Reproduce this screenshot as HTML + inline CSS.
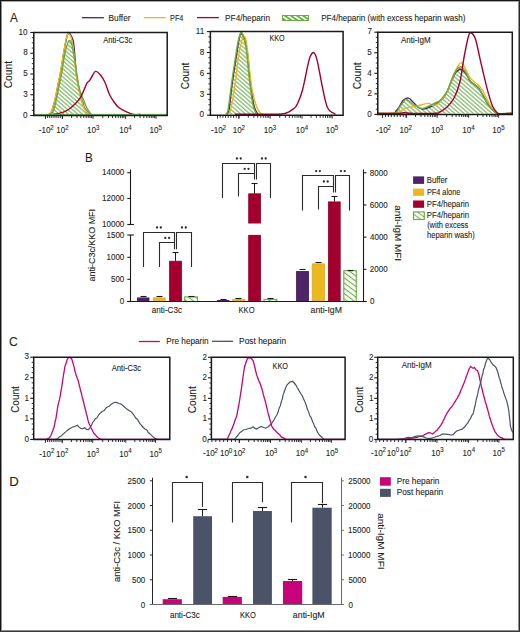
<!DOCTYPE html>
<html><head><meta charset="utf-8"><style>
html,body{margin:0;padding:0;background:#fff;overflow:hidden;width:520px;height:632px;}
svg{display:block;font-family:"Liberation Sans", sans-serif;}
text{stroke:#231f20;stroke-width:0.1px;}
</style></head><body>
<svg width="520" height="632" viewBox="0 0 520 632">
<defs>
<pattern id="hatch" patternUnits="userSpaceOnUse" width="6" height="3.06" patternTransform="rotate(41)">
<rect width="6" height="3.06" fill="#fff"/><line x1="0" y1="1.53" x2="6" y2="1.53" stroke="#55a032" stroke-width="0.9"/>
</pattern>
<pattern id="hatchB" patternUnits="userSpaceOnUse" width="6" height="4.2" patternTransform="rotate(37)">
<rect width="6" height="4.2" fill="#fff"/><line x1="0" y1="2.1" x2="6" y2="2.1" stroke="#6aac3f" stroke-width="1.1"/>
</pattern>
<pattern id="hatchS" patternUnits="userSpaceOnUse" x="0" y="0" width="8" height="4.0" patternTransform="translate(414,212.3) rotate(38)">
<rect width="8" height="4.0" fill="#fff"/><line x1="0" y1="1.6" x2="8" y2="1.6" stroke="#6aac3f" stroke-width="1.0"/>
</pattern>
<pattern id="hatchL" patternUnits="userSpaceOnUse" width="6" height="3.5" patternTransform="rotate(35)">
<rect width="6" height="3.5" fill="#6aac3f"/><line x1="0" y1="1.75" x2="6" y2="1.75" stroke="#fff" stroke-width="1.8"/>
</pattern>
</defs>
<rect x="0" y="0" width="520" height="632" fill="#fff"/>
<text x="9.97" y="21.90" font-size="12.7" textLength="7.85" lengthAdjust="spacingAndGlyphs" fill="#231f20">A</text>
<text x="85.04" y="161.80" font-size="12.7" textLength="7.77" lengthAdjust="spacingAndGlyphs" fill="#231f20">B</text>
<text x="8.99" y="345.70" font-size="12.7" textLength="8.76" lengthAdjust="spacingAndGlyphs" fill="#231f20">C</text>
<text x="9.31" y="485.60" font-size="12.7" textLength="9.51" lengthAdjust="spacingAndGlyphs" fill="#231f20">D</text>
<line x1="81.90" y1="17.70" x2="103.90" y2="17.70" stroke="#4f2466" stroke-width="1.3"/>
<text x="108.62" y="20.70" font-size="8.8" textLength="21.91" lengthAdjust="spacingAndGlyphs" fill="#231f20">Buffer</text>
<line x1="143.70" y1="17.70" x2="165.90" y2="17.70" stroke="#ecb820" stroke-width="1.3"/>
<text x="170.10" y="20.70" font-size="8.8" textLength="13.31" lengthAdjust="spacingAndGlyphs" fill="#231f20">PF4</text>
<line x1="197.00" y1="17.60" x2="218.80" y2="17.60" stroke="#a3002f" stroke-width="1.3"/>
<text x="225.12" y="20.70" font-size="8.8" textLength="44.90" lengthAdjust="spacingAndGlyphs" fill="#231f20">PF4/heparin</text>
<rect x="282.50" y="15.50" width="26.00" height="5.00" fill="url(#hatchL)" stroke="#6aac3f" stroke-width="1"/>
<text x="321.13" y="20.70" font-size="8.8" textLength="144.37" lengthAdjust="spacingAndGlyphs" fill="#231f20">PF4/heparin (with excess heparin wash)</text>
<path d="M50.70,114.40 C51.17,113.80 52.57,113.27 53.50,110.80 C54.43,108.33 55.37,103.78 56.30,99.60 C57.23,95.42 58.17,90.33 59.10,85.70 C60.03,81.07 60.98,76.92 61.90,71.80 C62.82,66.68 63.68,59.65 64.60,55.00 C65.52,50.35 66.58,46.33 67.40,43.90 C68.22,41.47 68.80,40.40 69.50,40.40 C70.20,40.40 70.78,40.98 71.60,43.90 C72.42,46.82 73.58,53.25 74.40,57.90 C75.22,62.55 75.68,66.70 76.50,71.80 C77.32,76.90 78.15,83.87 79.30,88.50 C80.45,93.13 82.13,96.35 83.40,99.60 C84.67,102.85 85.62,105.53 86.90,108.00 C88.18,110.47 90.40,113.33 91.10,114.40 L91.10,114.4 L50.70,114.4 Z" stroke="none" stroke-width="0" fill="url(#hatch)"/>
<path d="M48.80,114.40 C49.27,113.92 50.55,113.97 51.60,111.50 C52.65,109.03 54.05,103.90 55.10,99.60 C56.15,95.30 56.97,90.33 57.90,85.70 C58.83,81.07 59.78,76.92 60.70,71.80 C61.62,66.68 62.48,60.35 63.40,55.00 C64.32,49.65 65.47,43.27 66.20,39.70 C66.93,36.13 67.37,34.78 67.80,33.60 C68.23,32.42 68.18,32.12 68.80,32.60 C69.42,33.08 70.68,34.62 71.50,36.50 C72.32,38.38 72.92,38.02 73.70,43.90 C74.48,49.78 75.33,64.37 76.20,71.80 C77.07,79.23 77.98,83.87 78.90,88.50 C79.82,93.13 80.78,96.35 81.70,99.60 C82.62,102.85 83.37,105.78 84.40,108.00 C85.43,110.22 86.97,111.83 87.90,112.90 C88.83,113.97 89.65,114.15 90.00,114.40" stroke="#4f2466" stroke-width="1.4" fill="none"/>
<path d="M48.60,114.40 C49.07,113.92 50.35,113.97 51.40,111.50 C52.45,109.03 53.85,103.90 54.90,99.60 C55.95,95.30 56.77,90.33 57.70,85.70 C58.63,81.07 59.58,76.92 60.50,71.80 C61.42,66.68 62.28,60.35 63.20,55.00 C64.12,49.65 65.30,43.05 66.00,39.70 C66.70,36.35 66.98,35.93 67.40,34.90 C67.82,33.87 67.92,33.15 68.50,33.50 C69.08,33.85 70.15,34.80 70.90,37.00 C71.65,39.20 72.18,40.90 73.00,46.70 C73.82,52.50 74.87,64.83 75.80,71.80 C76.73,78.77 77.67,83.87 78.60,88.50 C79.53,93.13 80.48,96.35 81.40,99.60 C82.32,102.85 83.07,105.78 84.10,108.00 C85.13,110.22 86.67,111.83 87.60,112.90 C88.53,113.97 89.35,114.15 89.70,114.40" stroke="#ecb820" stroke-width="1.4" fill="none"/>
<path d="M50.70,114.40 C51.17,113.80 52.57,113.27 53.50,110.80 C54.43,108.33 55.37,103.78 56.30,99.60 C57.23,95.42 58.17,90.33 59.10,85.70 C60.03,81.07 60.98,76.92 61.90,71.80 C62.82,66.68 63.68,59.65 64.60,55.00 C65.52,50.35 66.58,46.33 67.40,43.90 C68.22,41.47 68.80,40.40 69.50,40.40 C70.20,40.40 70.78,40.98 71.60,43.90 C72.42,46.82 73.58,53.25 74.40,57.90 C75.22,62.55 75.68,66.70 76.50,71.80 C77.32,76.90 78.15,83.87 79.30,88.50 C80.45,93.13 82.13,96.35 83.40,99.60 C84.67,102.85 85.62,105.53 86.90,108.00 C88.18,110.47 90.40,113.33 91.10,114.40" stroke="#6aac3f" stroke-width="1.4" fill="none"/>
<path d="M53.50,114.40 C54.58,114.20 57.92,113.80 60.00,113.20 C62.08,112.60 64.30,111.63 66.00,110.80 C67.70,109.97 68.70,109.33 70.20,108.20 C71.70,107.07 73.37,105.67 75.00,104.00 C76.63,102.33 78.50,100.53 80.00,98.20 C81.50,95.87 82.85,92.50 84.00,90.00 C85.15,87.50 85.95,84.82 86.90,83.20 C87.85,81.58 88.77,81.58 89.70,80.30 C90.63,79.02 91.52,76.98 92.50,75.50 C93.48,74.02 94.27,71.48 95.60,71.40 C96.93,71.32 98.93,73.15 100.50,75.00 C102.07,76.85 103.50,79.25 105.00,82.50 C106.50,85.75 108.00,91.25 109.50,94.50 C111.00,97.75 112.50,99.88 114.00,102.00 C115.50,104.12 116.50,105.58 118.50,107.20 C120.50,108.82 123.50,110.50 126.00,111.70 C128.50,112.90 131.00,113.95 133.50,114.40 C136.00,114.85 139.75,114.40 141.00,114.40" stroke="#a3002f" stroke-width="1.4" fill="none"/>
<line x1="33.80" y1="114.40" x2="167.20" y2="114.40" stroke="#6aac3f" stroke-width="1.0"/>
<path d="M33.8,32.5 H167.2 V115.5 H33.8 Z" stroke="#1a1a1a" stroke-width="1.5" fill="none"/>
<line x1="30.30" y1="115.50" x2="33.80" y2="115.50" stroke="#1a1a1a" stroke-width="1.1"/>
<text x="23.11" y="117.70" font-size="8.8" textLength="4.50" lengthAdjust="spacingAndGlyphs" fill="#231f20">0</text>
<line x1="31.80" y1="110.31" x2="33.80" y2="110.31" stroke="#1a1a1a" stroke-width="0.9"/>
<line x1="31.80" y1="105.12" x2="33.80" y2="105.12" stroke="#1a1a1a" stroke-width="0.9"/>
<line x1="31.80" y1="99.94" x2="33.80" y2="99.94" stroke="#1a1a1a" stroke-width="0.9"/>
<line x1="30.30" y1="94.75" x2="33.80" y2="94.75" stroke="#1a1a1a" stroke-width="1.1"/>
<text x="23.15" y="96.95" font-size="8.8" textLength="4.50" lengthAdjust="spacingAndGlyphs" fill="#231f20">3</text>
<line x1="31.80" y1="89.56" x2="33.80" y2="89.56" stroke="#1a1a1a" stroke-width="0.9"/>
<line x1="31.80" y1="84.38" x2="33.80" y2="84.38" stroke="#1a1a1a" stroke-width="0.9"/>
<line x1="31.80" y1="79.19" x2="33.80" y2="79.19" stroke="#1a1a1a" stroke-width="0.9"/>
<line x1="30.30" y1="74.00" x2="33.80" y2="74.00" stroke="#1a1a1a" stroke-width="1.1"/>
<text x="23.13" y="76.20" font-size="8.8" textLength="4.50" lengthAdjust="spacingAndGlyphs" fill="#231f20">5</text>
<line x1="31.80" y1="68.81" x2="33.80" y2="68.81" stroke="#1a1a1a" stroke-width="0.9"/>
<line x1="31.80" y1="63.62" x2="33.80" y2="63.62" stroke="#1a1a1a" stroke-width="0.9"/>
<line x1="31.80" y1="58.44" x2="33.80" y2="58.44" stroke="#1a1a1a" stroke-width="0.9"/>
<line x1="30.30" y1="53.25" x2="33.80" y2="53.25" stroke="#1a1a1a" stroke-width="1.1"/>
<text x="23.15" y="55.45" font-size="8.8" textLength="4.50" lengthAdjust="spacingAndGlyphs" fill="#231f20">8</text>
<line x1="31.80" y1="48.06" x2="33.80" y2="48.06" stroke="#1a1a1a" stroke-width="0.9"/>
<line x1="31.80" y1="42.88" x2="33.80" y2="42.88" stroke="#1a1a1a" stroke-width="0.9"/>
<line x1="31.80" y1="37.69" x2="33.80" y2="37.69" stroke="#1a1a1a" stroke-width="0.9"/>
<line x1="30.30" y1="32.50" x2="33.80" y2="32.50" stroke="#1a1a1a" stroke-width="1.1"/>
<text x="18.62" y="34.70" font-size="8.8" textLength="9.01" lengthAdjust="spacingAndGlyphs" fill="#231f20">10</text>
<text transform="translate(12.30,87.80) rotate(-90)" x="-0.52" y="0" font-size="11.0" textLength="27.50" lengthAdjust="spacingAndGlyphs" fill="#231f20">Count</text>
<text x="38.74" y="133.40" font-size="9.2" textLength="11.70" lengthAdjust="spacingAndGlyphs" fill="#231f20">-10</text>
<text x="50.33" y="129.70" font-size="6.4" textLength="3.38" lengthAdjust="spacingAndGlyphs" fill="#231f20">2</text>
<text x="56.29" y="133.40" font-size="9.2" textLength="9.01" lengthAdjust="spacingAndGlyphs" fill="#231f20">10</text>
<text x="65.17" y="129.70" font-size="6.4" textLength="3.38" lengthAdjust="spacingAndGlyphs" fill="#231f20">2</text>
<text x="86.99" y="133.40" font-size="9.2" textLength="9.01" lengthAdjust="spacingAndGlyphs" fill="#231f20">10</text>
<text x="95.95" y="129.70" font-size="6.4" textLength="3.38" lengthAdjust="spacingAndGlyphs" fill="#231f20">3</text>
<text x="119.29" y="133.40" font-size="9.2" textLength="9.01" lengthAdjust="spacingAndGlyphs" fill="#231f20">10</text>
<text x="128.34" y="129.70" font-size="6.4" textLength="3.38" lengthAdjust="spacingAndGlyphs" fill="#231f20">4</text>
<text x="149.59" y="133.40" font-size="9.2" textLength="9.01" lengthAdjust="spacingAndGlyphs" fill="#231f20">10</text>
<text x="158.53" y="129.70" font-size="6.4" textLength="3.38" lengthAdjust="spacingAndGlyphs" fill="#231f20">5</text>
<text x="103.18" y="42.70" font-size="8.3" textLength="29.02" lengthAdjust="spacingAndGlyphs" fill="#231f20">Anti-C3c</text>
<path d="M225.70,114.20 C226.08,113.50 227.05,114.87 228.00,110.00 C228.95,105.13 230.48,91.67 231.40,85.00 C232.32,78.33 232.80,74.75 233.50,70.00 C234.20,65.25 234.85,61.17 235.60,56.50 C236.35,51.83 237.10,45.98 238.00,42.00 C238.90,38.02 240.08,33.43 241.00,32.60 C241.92,31.77 242.62,34.20 243.50,37.00 C244.38,39.80 245.35,42.58 246.30,49.40 C247.25,56.22 248.42,70.80 249.20,77.90 C249.98,85.00 250.42,87.73 251.00,92.00 C251.58,96.27 252.03,100.33 252.70,103.50 C253.37,106.67 254.28,109.22 255.00,111.00 C255.72,112.78 256.67,113.67 257.00,114.20 L257.00,114.2 L225.70,114.2 Z" stroke="none" stroke-width="0" fill="url(#hatch)"/>
<path d="M226.50,114.20 C226.92,113.50 228.08,114.87 229.00,110.00 C229.92,105.13 230.78,93.92 232.00,85.00 C233.22,76.08 235.20,63.67 236.30,56.50 C237.40,49.33 237.88,45.80 238.60,42.00 C239.32,38.20 239.70,34.37 240.60,33.70 C241.50,33.03 242.93,35.28 244.00,38.00 C245.07,40.72 246.00,43.33 247.00,50.00 C248.00,56.67 248.92,69.08 250.00,78.00 C251.08,86.92 252.50,98.00 253.50,103.50 C254.50,109.00 255.25,109.22 256.00,111.00 C256.75,112.78 257.67,113.67 258.00,114.20" stroke="#4f2466" stroke-width="1.4" fill="none"/>
<path d="M228.50,114.20 C228.92,113.17 229.92,112.87 231.00,108.00 C232.08,103.13 233.75,93.58 235.00,85.00 C236.25,76.42 237.42,63.67 238.50,56.50 C239.58,49.33 240.60,45.33 241.50,42.00 C242.40,38.67 243.15,36.83 243.90,36.50 C244.65,36.17 245.28,36.67 246.00,40.00 C246.72,43.33 247.32,49.00 248.20,56.50 C249.08,64.00 250.33,78.08 251.30,85.00 C252.27,91.92 253.05,94.20 254.00,98.00 C254.95,101.80 256.00,105.38 257.00,107.80 C258.00,110.22 259.05,111.43 260.00,112.50 C260.95,113.57 262.25,113.92 262.70,114.20" stroke="#ecb820" stroke-width="1.4" fill="none"/>
<path d="M225.70,114.20 C226.08,113.50 227.05,114.87 228.00,110.00 C228.95,105.13 230.48,91.67 231.40,85.00 C232.32,78.33 232.80,74.75 233.50,70.00 C234.20,65.25 234.85,61.17 235.60,56.50 C236.35,51.83 237.10,45.98 238.00,42.00 C238.90,38.02 240.08,33.43 241.00,32.60 C241.92,31.77 242.62,34.20 243.50,37.00 C244.38,39.80 245.35,42.58 246.30,49.40 C247.25,56.22 248.42,70.80 249.20,77.90 C249.98,85.00 250.42,87.73 251.00,92.00 C251.58,96.27 252.03,100.33 252.70,103.50 C253.37,106.67 254.28,109.22 255.00,111.00 C255.72,112.78 256.67,113.67 257.00,114.20" stroke="#6aac3f" stroke-width="1.4" fill="none"/>
<path d="M235.00,114.20 C240.83,114.20 262.83,114.20 270.00,114.20 C277.17,114.20 275.67,114.30 278.00,114.20 C280.33,114.10 282.17,114.00 284.00,113.60 C285.83,113.20 287.58,112.48 289.00,111.80 C290.42,111.12 291.33,110.40 292.50,109.50 C293.67,108.60 294.83,108.15 296.00,106.40 C297.17,104.65 298.42,101.73 299.50,99.00 C300.58,96.27 301.58,93.33 302.50,90.00 C303.42,86.67 304.18,82.80 305.00,79.00 C305.82,75.20 306.57,70.87 307.40,67.20 C308.23,63.53 309.05,59.45 310.00,57.00 C310.95,54.55 312.18,52.83 313.10,52.50 C314.02,52.17 314.82,53.63 315.50,55.00 C316.18,56.37 316.53,57.87 317.20,60.70 C317.87,63.53 318.70,67.92 319.50,72.00 C320.30,76.08 321.17,81.03 322.00,85.20 C322.83,89.37 323.67,93.47 324.50,97.00 C325.33,100.53 326.08,104.07 327.00,106.40 C327.92,108.73 328.92,109.90 330.00,111.00 C331.08,112.10 332.58,112.47 333.50,113.00 C334.42,113.53 335.17,114.00 335.50,114.20" stroke="#a3002f" stroke-width="1.4" fill="none"/>
<path d="M210.4,31.6 H343.1 V115.2 H210.4 Z" stroke="#1a1a1a" stroke-width="1.5" fill="none"/>
<line x1="206.90" y1="115.20" x2="210.40" y2="115.20" stroke="#1a1a1a" stroke-width="1.1"/>
<text x="199.61" y="117.40" font-size="8.8" textLength="4.50" lengthAdjust="spacingAndGlyphs" fill="#231f20">0</text>
<line x1="208.40" y1="109.98" x2="210.40" y2="109.98" stroke="#1a1a1a" stroke-width="0.9"/>
<line x1="208.40" y1="104.75" x2="210.40" y2="104.75" stroke="#1a1a1a" stroke-width="0.9"/>
<line x1="208.40" y1="99.53" x2="210.40" y2="99.53" stroke="#1a1a1a" stroke-width="0.9"/>
<line x1="206.90" y1="94.30" x2="210.40" y2="94.30" stroke="#1a1a1a" stroke-width="1.1"/>
<text x="199.65" y="96.50" font-size="8.8" textLength="4.50" lengthAdjust="spacingAndGlyphs" fill="#231f20">3</text>
<line x1="208.40" y1="89.08" x2="210.40" y2="89.08" stroke="#1a1a1a" stroke-width="0.9"/>
<line x1="208.40" y1="83.85" x2="210.40" y2="83.85" stroke="#1a1a1a" stroke-width="0.9"/>
<line x1="208.40" y1="78.63" x2="210.40" y2="78.63" stroke="#1a1a1a" stroke-width="0.9"/>
<line x1="206.90" y1="73.40" x2="210.40" y2="73.40" stroke="#1a1a1a" stroke-width="1.1"/>
<text x="199.65" y="75.60" font-size="8.8" textLength="4.50" lengthAdjust="spacingAndGlyphs" fill="#231f20">6</text>
<line x1="208.40" y1="68.18" x2="210.40" y2="68.18" stroke="#1a1a1a" stroke-width="0.9"/>
<line x1="208.40" y1="62.95" x2="210.40" y2="62.95" stroke="#1a1a1a" stroke-width="0.9"/>
<line x1="208.40" y1="57.73" x2="210.40" y2="57.73" stroke="#1a1a1a" stroke-width="0.9"/>
<line x1="206.90" y1="52.50" x2="210.40" y2="52.50" stroke="#1a1a1a" stroke-width="1.1"/>
<text x="199.65" y="54.70" font-size="8.8" textLength="4.50" lengthAdjust="spacingAndGlyphs" fill="#231f20">8</text>
<line x1="208.40" y1="47.28" x2="210.40" y2="47.28" stroke="#1a1a1a" stroke-width="0.9"/>
<line x1="208.40" y1="42.05" x2="210.40" y2="42.05" stroke="#1a1a1a" stroke-width="0.9"/>
<line x1="208.40" y1="36.83" x2="210.40" y2="36.83" stroke="#1a1a1a" stroke-width="0.9"/>
<line x1="206.90" y1="31.60" x2="210.40" y2="31.60" stroke="#1a1a1a" stroke-width="1.1"/>
<text x="195.78" y="33.80" font-size="8.8" textLength="8.40" lengthAdjust="spacingAndGlyphs" fill="#231f20">11</text>
<text transform="translate(188.80,88.80) rotate(-90)" x="-0.50" y="0" font-size="11.0" textLength="26.69" lengthAdjust="spacingAndGlyphs" fill="#231f20">Count</text>
<text x="210.94" y="133.40" font-size="9.2" textLength="11.70" lengthAdjust="spacingAndGlyphs" fill="#231f20">-10</text>
<text x="222.53" y="129.70" font-size="6.4" textLength="3.38" lengthAdjust="spacingAndGlyphs" fill="#231f20">2</text>
<text x="232.69" y="133.40" font-size="9.2" textLength="9.01" lengthAdjust="spacingAndGlyphs" fill="#231f20">10</text>
<text x="241.57" y="129.70" font-size="6.4" textLength="3.38" lengthAdjust="spacingAndGlyphs" fill="#231f20">2</text>
<text x="263.69" y="133.40" font-size="9.2" textLength="9.01" lengthAdjust="spacingAndGlyphs" fill="#231f20">10</text>
<text x="272.65" y="129.70" font-size="6.4" textLength="3.38" lengthAdjust="spacingAndGlyphs" fill="#231f20">3</text>
<text x="295.69" y="133.40" font-size="9.2" textLength="9.01" lengthAdjust="spacingAndGlyphs" fill="#231f20">10</text>
<text x="304.74" y="129.70" font-size="6.4" textLength="3.38" lengthAdjust="spacingAndGlyphs" fill="#231f20">4</text>
<text x="325.69" y="133.40" font-size="9.2" textLength="9.01" lengthAdjust="spacingAndGlyphs" fill="#231f20">10</text>
<text x="334.63" y="129.70" font-size="6.4" textLength="3.38" lengthAdjust="spacingAndGlyphs" fill="#231f20">5</text>
<text x="269.51" y="41.40" font-size="8.3" textLength="15.02" lengthAdjust="spacingAndGlyphs" fill="#231f20">KKO</text>
<path d="M377.80,113.40 C380.58,113.38 390.97,114.20 394.50,113.30 C398.03,112.40 397.33,110.13 399.00,108.00 C400.67,105.87 403.23,101.92 404.50,100.50 C405.77,99.08 405.18,98.92 406.60,99.50 C408.02,100.08 410.52,102.52 413.00,104.00 C415.48,105.48 418.90,108.03 421.50,108.40 C424.10,108.77 425.98,107.27 428.60,106.20 C431.22,105.13 435.22,103.03 437.20,102.00 C439.18,100.97 439.08,101.43 440.50,100.00 C441.92,98.57 444.53,94.98 445.70,93.40 C446.87,91.82 446.08,93.82 447.50,90.50 C448.92,87.18 452.02,77.47 454.20,73.50 C456.38,69.53 458.70,66.93 460.60,66.70 C462.50,66.47 464.05,69.78 465.60,72.10 C467.15,74.42 468.48,78.58 469.90,80.60 C471.32,82.62 472.68,83.02 474.10,84.20 C475.52,85.38 476.97,85.92 478.40,87.70 C479.83,89.48 481.03,92.05 482.70,94.90 C484.37,97.75 486.52,102.08 488.40,104.80 C490.28,107.52 492.35,109.73 494.00,111.20 C495.65,112.67 495.30,113.23 498.30,113.60 C501.30,113.97 509.72,113.43 512.00,113.40 L512.00,113.4 L377.80,113.4 Z" stroke="none" stroke-width="0" fill="url(#hatch)"/>
<path d="M377.80,113.40 C380.33,113.38 389.97,113.70 393.00,113.30 C396.03,112.90 395.03,111.93 396.00,111.00 C396.97,110.07 397.63,109.45 398.80,107.70 C399.97,105.95 401.40,102.10 403.00,100.50 C404.60,98.90 406.73,97.85 408.40,98.10 C410.07,98.35 411.28,100.40 413.00,102.00 C414.72,103.60 417.03,106.53 418.70,107.70 C420.37,108.87 421.12,109.12 423.00,109.00 C424.88,108.88 427.67,107.93 430.00,107.00 C432.33,106.07 435.25,104.48 437.00,103.40 C438.75,102.32 439.28,101.68 440.50,100.50 C441.72,99.32 443.13,97.88 444.30,96.30 C445.47,94.72 445.85,94.55 447.50,91.00 C449.15,87.45 452.45,78.42 454.20,75.00 C455.95,71.58 456.87,71.45 458.00,70.50 C459.13,69.55 459.73,68.88 461.00,69.30 C462.27,69.72 464.12,71.12 465.60,73.00 C467.08,74.88 468.48,78.73 469.90,80.60 C471.32,82.47 472.68,83.02 474.10,84.20 C475.52,85.38 476.97,85.92 478.40,87.70 C479.83,89.48 481.03,92.05 482.70,94.90 C484.37,97.75 486.52,102.08 488.40,104.80 C490.28,107.52 492.35,109.73 494.00,111.20 C495.65,112.67 495.30,113.23 498.30,113.60 C501.30,113.97 509.72,113.43 512.00,113.40" stroke="#4f2466" stroke-width="1.4" fill="none"/>
<path d="M377.80,113.40 C381.05,113.27 392.85,113.43 397.30,112.60 C401.75,111.77 402.12,109.33 404.50,108.40 C406.88,107.47 409.23,107.48 411.60,107.00 C413.97,106.52 415.87,106.10 418.70,105.50 C421.53,104.90 426.22,103.40 428.60,103.40 C430.98,103.40 431.33,105.50 433.00,105.50 C434.67,105.50 437.18,104.40 438.60,103.40 C440.02,102.40 440.08,101.40 441.50,99.50 C442.92,97.60 444.98,96.33 447.10,92.00 C449.22,87.67 452.30,78.00 454.20,73.50 C456.10,69.00 457.32,66.82 458.50,65.00 C459.68,63.18 460.35,62.37 461.30,62.60 C462.25,62.83 463.02,64.33 464.20,66.40 C465.38,68.47 466.98,72.63 468.40,75.00 C469.82,77.37 471.03,78.95 472.70,80.60 C474.37,82.25 476.73,83.23 478.40,84.90 C480.07,86.57 481.28,88.23 482.70,90.60 C484.12,92.97 485.48,96.37 486.90,99.10 C488.32,101.83 489.77,104.85 491.20,107.00 C492.63,109.15 494.08,110.90 495.50,112.00 C496.92,113.10 496.95,113.37 499.70,113.60 C502.45,113.83 509.95,113.43 512.00,113.40" stroke="#ecb820" stroke-width="1.4" fill="none"/>
<path d="M377.80,113.40 C380.58,113.38 390.97,114.20 394.50,113.30 C398.03,112.40 397.33,110.13 399.00,108.00 C400.67,105.87 403.23,101.92 404.50,100.50 C405.77,99.08 405.18,98.92 406.60,99.50 C408.02,100.08 410.52,102.52 413.00,104.00 C415.48,105.48 418.90,108.03 421.50,108.40 C424.10,108.77 425.98,107.27 428.60,106.20 C431.22,105.13 435.22,103.03 437.20,102.00 C439.18,100.97 439.08,101.43 440.50,100.00 C441.92,98.57 444.53,94.98 445.70,93.40 C446.87,91.82 446.08,93.82 447.50,90.50 C448.92,87.18 452.02,77.47 454.20,73.50 C456.38,69.53 458.70,66.93 460.60,66.70 C462.50,66.47 464.05,69.78 465.60,72.10 C467.15,74.42 468.48,78.58 469.90,80.60 C471.32,82.62 472.68,83.02 474.10,84.20 C475.52,85.38 476.97,85.92 478.40,87.70 C479.83,89.48 481.03,92.05 482.70,94.90 C484.37,97.75 486.52,102.08 488.40,104.80 C490.28,107.52 492.35,109.73 494.00,111.20 C495.65,112.67 495.30,113.23 498.30,113.60 C501.30,113.97 509.72,113.43 512.00,113.40" stroke="#6aac3f" stroke-width="1.4" fill="none"/>
<path d="M377.80,113.40 C381.05,113.40 392.85,113.50 397.30,113.40 C401.75,113.30 401.88,112.80 404.50,112.80 C407.12,112.80 407.75,113.32 413.00,113.40 C418.25,113.48 431.50,113.57 436.00,113.30 C440.50,113.03 438.15,112.85 440.00,111.80 C441.85,110.75 444.73,109.35 447.10,107.00 C449.47,104.65 452.07,101.87 454.20,97.70 C456.33,93.53 458.23,88.87 459.90,82.00 C461.57,75.13 462.78,64.08 464.20,56.50 C465.62,48.92 467.22,40.42 468.40,36.50 C469.58,32.58 470.10,32.52 471.30,33.00 C472.50,33.48 474.18,35.25 475.60,39.40 C477.02,43.55 478.38,51.73 479.80,57.90 C481.22,64.07 482.67,70.48 484.10,76.40 C485.53,82.32 486.98,88.43 488.40,93.40 C489.82,98.37 491.18,103.00 492.60,106.20 C494.02,109.40 495.72,111.37 496.90,112.60 C498.08,113.83 497.18,113.47 499.70,113.60 C502.22,113.73 509.95,113.43 512.00,113.40" stroke="#a3002f" stroke-width="1.4" fill="none"/>
<path d="M377.8,32.2 H512.3 V114.4 H377.8 Z" stroke="#1a1a1a" stroke-width="1.5" fill="none"/>
<line x1="374.30" y1="114.40" x2="377.80" y2="114.40" stroke="#1a1a1a" stroke-width="1.1"/>
<text x="367.31" y="116.60" font-size="8.8" textLength="4.50" lengthAdjust="spacingAndGlyphs" fill="#231f20">0</text>
<line x1="375.80" y1="109.26" x2="377.80" y2="109.26" stroke="#1a1a1a" stroke-width="0.9"/>
<line x1="375.80" y1="104.12" x2="377.80" y2="104.12" stroke="#1a1a1a" stroke-width="0.9"/>
<line x1="375.80" y1="98.99" x2="377.80" y2="98.99" stroke="#1a1a1a" stroke-width="0.9"/>
<line x1="374.30" y1="93.85" x2="377.80" y2="93.85" stroke="#1a1a1a" stroke-width="1.1"/>
<text x="367.41" y="96.05" font-size="8.8" textLength="4.50" lengthAdjust="spacingAndGlyphs" fill="#231f20">2</text>
<line x1="375.80" y1="88.71" x2="377.80" y2="88.71" stroke="#1a1a1a" stroke-width="0.9"/>
<line x1="375.80" y1="83.58" x2="377.80" y2="83.58" stroke="#1a1a1a" stroke-width="0.9"/>
<line x1="375.80" y1="78.44" x2="377.80" y2="78.44" stroke="#1a1a1a" stroke-width="0.9"/>
<line x1="374.30" y1="73.30" x2="377.80" y2="73.30" stroke="#1a1a1a" stroke-width="1.1"/>
<text x="367.23" y="75.50" font-size="8.8" textLength="4.50" lengthAdjust="spacingAndGlyphs" fill="#231f20">4</text>
<line x1="375.80" y1="68.16" x2="377.80" y2="68.16" stroke="#1a1a1a" stroke-width="0.9"/>
<line x1="375.80" y1="63.03" x2="377.80" y2="63.03" stroke="#1a1a1a" stroke-width="0.9"/>
<line x1="375.80" y1="57.89" x2="377.80" y2="57.89" stroke="#1a1a1a" stroke-width="0.9"/>
<line x1="374.30" y1="52.75" x2="377.80" y2="52.75" stroke="#1a1a1a" stroke-width="1.1"/>
<text x="367.33" y="54.95" font-size="8.8" textLength="4.50" lengthAdjust="spacingAndGlyphs" fill="#231f20">5</text>
<line x1="375.80" y1="47.61" x2="377.80" y2="47.61" stroke="#1a1a1a" stroke-width="0.9"/>
<line x1="375.80" y1="42.48" x2="377.80" y2="42.48" stroke="#1a1a1a" stroke-width="0.9"/>
<line x1="375.80" y1="37.34" x2="377.80" y2="37.34" stroke="#1a1a1a" stroke-width="0.9"/>
<line x1="374.30" y1="32.20" x2="377.80" y2="32.20" stroke="#1a1a1a" stroke-width="1.1"/>
<text x="367.41" y="34.40" font-size="8.8" textLength="4.50" lengthAdjust="spacingAndGlyphs" fill="#231f20">7</text>
<text transform="translate(361.00,88.80) rotate(-90)" x="-0.50" y="0" font-size="11.0" textLength="26.89" lengthAdjust="spacingAndGlyphs" fill="#231f20">Count</text>
<text x="375.94" y="133.40" font-size="9.2" textLength="11.70" lengthAdjust="spacingAndGlyphs" fill="#231f20">-10</text>
<text x="387.53" y="129.70" font-size="6.4" textLength="3.38" lengthAdjust="spacingAndGlyphs" fill="#231f20">2</text>
<text x="399.59" y="133.40" font-size="9.2" textLength="9.01" lengthAdjust="spacingAndGlyphs" fill="#231f20">10</text>
<text x="408.47" y="129.70" font-size="6.4" textLength="3.38" lengthAdjust="spacingAndGlyphs" fill="#231f20">2</text>
<text x="430.89" y="133.40" font-size="9.2" textLength="9.01" lengthAdjust="spacingAndGlyphs" fill="#231f20">10</text>
<text x="439.85" y="129.70" font-size="6.4" textLength="3.38" lengthAdjust="spacingAndGlyphs" fill="#231f20">3</text>
<text x="462.19" y="133.40" font-size="9.2" textLength="9.01" lengthAdjust="spacingAndGlyphs" fill="#231f20">10</text>
<text x="471.24" y="129.70" font-size="6.4" textLength="3.38" lengthAdjust="spacingAndGlyphs" fill="#231f20">4</text>
<text x="492.29" y="133.40" font-size="9.2" textLength="9.01" lengthAdjust="spacingAndGlyphs" fill="#231f20">10</text>
<text x="501.23" y="129.70" font-size="6.4" textLength="3.38" lengthAdjust="spacingAndGlyphs" fill="#231f20">5</text>
<text x="400.88" y="43.20" font-size="8.3" textLength="29.79" lengthAdjust="spacingAndGlyphs" fill="#231f20">Anti-IgM</text>
<line x1="62.40" y1="116.00" x2="62.40" y2="118.90" stroke="#1a1a1a" stroke-width="0.9"/>
<line x1="71.61" y1="116.00" x2="71.61" y2="118.10" stroke="#1a1a1a" stroke-width="0.9"/>
<line x1="77.00" y1="116.00" x2="77.00" y2="118.10" stroke="#1a1a1a" stroke-width="0.9"/>
<line x1="80.82" y1="116.00" x2="80.82" y2="118.10" stroke="#1a1a1a" stroke-width="0.9"/>
<line x1="83.79" y1="116.00" x2="83.79" y2="118.10" stroke="#1a1a1a" stroke-width="0.9"/>
<line x1="86.21" y1="116.00" x2="86.21" y2="118.10" stroke="#1a1a1a" stroke-width="0.9"/>
<line x1="88.26" y1="116.00" x2="88.26" y2="118.10" stroke="#1a1a1a" stroke-width="0.9"/>
<line x1="90.03" y1="116.00" x2="90.03" y2="118.10" stroke="#1a1a1a" stroke-width="0.9"/>
<line x1="91.60" y1="116.00" x2="91.60" y2="118.10" stroke="#1a1a1a" stroke-width="0.9"/>
<line x1="93.00" y1="116.00" x2="93.00" y2="118.90" stroke="#1a1a1a" stroke-width="0.9"/>
<line x1="102.75" y1="116.00" x2="102.75" y2="118.10" stroke="#1a1a1a" stroke-width="0.9"/>
<line x1="108.46" y1="116.00" x2="108.46" y2="118.10" stroke="#1a1a1a" stroke-width="0.9"/>
<line x1="112.51" y1="116.00" x2="112.51" y2="118.10" stroke="#1a1a1a" stroke-width="0.9"/>
<line x1="115.65" y1="116.00" x2="115.65" y2="118.10" stroke="#1a1a1a" stroke-width="0.9"/>
<line x1="118.21" y1="116.00" x2="118.21" y2="118.10" stroke="#1a1a1a" stroke-width="0.9"/>
<line x1="120.38" y1="116.00" x2="120.38" y2="118.10" stroke="#1a1a1a" stroke-width="0.9"/>
<line x1="122.26" y1="116.00" x2="122.26" y2="118.10" stroke="#1a1a1a" stroke-width="0.9"/>
<line x1="123.92" y1="116.00" x2="123.92" y2="118.10" stroke="#1a1a1a" stroke-width="0.9"/>
<line x1="125.40" y1="116.00" x2="125.40" y2="118.90" stroke="#1a1a1a" stroke-width="0.9"/>
<line x1="134.61" y1="116.00" x2="134.61" y2="118.10" stroke="#1a1a1a" stroke-width="0.9"/>
<line x1="140.00" y1="116.00" x2="140.00" y2="118.10" stroke="#1a1a1a" stroke-width="0.9"/>
<line x1="143.82" y1="116.00" x2="143.82" y2="118.10" stroke="#1a1a1a" stroke-width="0.9"/>
<line x1="146.79" y1="116.00" x2="146.79" y2="118.10" stroke="#1a1a1a" stroke-width="0.9"/>
<line x1="149.21" y1="116.00" x2="149.21" y2="118.10" stroke="#1a1a1a" stroke-width="0.9"/>
<line x1="151.26" y1="116.00" x2="151.26" y2="118.10" stroke="#1a1a1a" stroke-width="0.9"/>
<line x1="153.03" y1="116.00" x2="153.03" y2="118.10" stroke="#1a1a1a" stroke-width="0.9"/>
<line x1="154.60" y1="116.00" x2="154.60" y2="118.10" stroke="#1a1a1a" stroke-width="0.9"/>
<line x1="156.00" y1="116.00" x2="156.00" y2="118.90" stroke="#1a1a1a" stroke-width="0.9"/>
<line x1="45.50" y1="116.00" x2="45.50" y2="118.90" stroke="#1a1a1a" stroke-width="0.9"/>
<line x1="47.61" y1="116.00" x2="47.61" y2="118.10" stroke="#1a1a1a" stroke-width="0.9"/>
<line x1="49.73" y1="116.00" x2="49.73" y2="118.10" stroke="#1a1a1a" stroke-width="0.9"/>
<line x1="51.84" y1="116.00" x2="51.84" y2="118.10" stroke="#1a1a1a" stroke-width="0.9"/>
<line x1="53.95" y1="116.00" x2="53.95" y2="118.10" stroke="#1a1a1a" stroke-width="0.9"/>
<line x1="56.06" y1="116.00" x2="56.06" y2="118.10" stroke="#1a1a1a" stroke-width="0.9"/>
<line x1="58.17" y1="116.00" x2="58.17" y2="118.10" stroke="#1a1a1a" stroke-width="0.9"/>
<line x1="60.29" y1="116.00" x2="60.29" y2="118.10" stroke="#1a1a1a" stroke-width="0.9"/>
<line x1="62.40" y1="116.00" x2="62.40" y2="118.90" stroke="#1a1a1a" stroke-width="0.9"/>
<line x1="238.90" y1="115.70" x2="238.90" y2="118.60" stroke="#1a1a1a" stroke-width="0.9"/>
<line x1="248.32" y1="115.70" x2="248.32" y2="117.80" stroke="#1a1a1a" stroke-width="0.9"/>
<line x1="253.83" y1="115.70" x2="253.83" y2="117.80" stroke="#1a1a1a" stroke-width="0.9"/>
<line x1="257.74" y1="115.70" x2="257.74" y2="117.80" stroke="#1a1a1a" stroke-width="0.9"/>
<line x1="260.78" y1="115.70" x2="260.78" y2="117.80" stroke="#1a1a1a" stroke-width="0.9"/>
<line x1="263.26" y1="115.70" x2="263.26" y2="117.80" stroke="#1a1a1a" stroke-width="0.9"/>
<line x1="265.35" y1="115.70" x2="265.35" y2="117.80" stroke="#1a1a1a" stroke-width="0.9"/>
<line x1="267.17" y1="115.70" x2="267.17" y2="117.80" stroke="#1a1a1a" stroke-width="0.9"/>
<line x1="268.77" y1="115.70" x2="268.77" y2="117.80" stroke="#1a1a1a" stroke-width="0.9"/>
<line x1="270.20" y1="115.70" x2="270.20" y2="118.60" stroke="#1a1a1a" stroke-width="0.9"/>
<line x1="279.77" y1="115.70" x2="279.77" y2="117.80" stroke="#1a1a1a" stroke-width="0.9"/>
<line x1="285.37" y1="115.70" x2="285.37" y2="117.80" stroke="#1a1a1a" stroke-width="0.9"/>
<line x1="289.35" y1="115.70" x2="289.35" y2="117.80" stroke="#1a1a1a" stroke-width="0.9"/>
<line x1="292.43" y1="115.70" x2="292.43" y2="117.80" stroke="#1a1a1a" stroke-width="0.9"/>
<line x1="294.95" y1="115.70" x2="294.95" y2="117.80" stroke="#1a1a1a" stroke-width="0.9"/>
<line x1="297.07" y1="115.70" x2="297.07" y2="117.80" stroke="#1a1a1a" stroke-width="0.9"/>
<line x1="298.92" y1="115.70" x2="298.92" y2="117.80" stroke="#1a1a1a" stroke-width="0.9"/>
<line x1="300.54" y1="115.70" x2="300.54" y2="117.80" stroke="#1a1a1a" stroke-width="0.9"/>
<line x1="302.00" y1="115.70" x2="302.00" y2="118.60" stroke="#1a1a1a" stroke-width="0.9"/>
<line x1="311.09" y1="115.70" x2="311.09" y2="117.80" stroke="#1a1a1a" stroke-width="0.9"/>
<line x1="316.41" y1="115.70" x2="316.41" y2="117.80" stroke="#1a1a1a" stroke-width="0.9"/>
<line x1="320.18" y1="115.70" x2="320.18" y2="117.80" stroke="#1a1a1a" stroke-width="0.9"/>
<line x1="323.11" y1="115.70" x2="323.11" y2="117.80" stroke="#1a1a1a" stroke-width="0.9"/>
<line x1="325.50" y1="115.70" x2="325.50" y2="117.80" stroke="#1a1a1a" stroke-width="0.9"/>
<line x1="327.52" y1="115.70" x2="327.52" y2="117.80" stroke="#1a1a1a" stroke-width="0.9"/>
<line x1="329.27" y1="115.70" x2="329.27" y2="117.80" stroke="#1a1a1a" stroke-width="0.9"/>
<line x1="330.82" y1="115.70" x2="330.82" y2="117.80" stroke="#1a1a1a" stroke-width="0.9"/>
<line x1="332.20" y1="115.70" x2="332.20" y2="118.60" stroke="#1a1a1a" stroke-width="0.9"/>
<line x1="217.50" y1="115.70" x2="217.50" y2="118.60" stroke="#1a1a1a" stroke-width="0.9"/>
<line x1="220.17" y1="115.70" x2="220.17" y2="117.80" stroke="#1a1a1a" stroke-width="0.9"/>
<line x1="222.85" y1="115.70" x2="222.85" y2="117.80" stroke="#1a1a1a" stroke-width="0.9"/>
<line x1="225.52" y1="115.70" x2="225.52" y2="117.80" stroke="#1a1a1a" stroke-width="0.9"/>
<line x1="228.20" y1="115.70" x2="228.20" y2="117.80" stroke="#1a1a1a" stroke-width="0.9"/>
<line x1="230.88" y1="115.70" x2="230.88" y2="117.80" stroke="#1a1a1a" stroke-width="0.9"/>
<line x1="233.55" y1="115.70" x2="233.55" y2="117.80" stroke="#1a1a1a" stroke-width="0.9"/>
<line x1="236.22" y1="115.70" x2="236.22" y2="117.80" stroke="#1a1a1a" stroke-width="0.9"/>
<line x1="238.90" y1="115.70" x2="238.90" y2="118.60" stroke="#1a1a1a" stroke-width="0.9"/>
<line x1="406.20" y1="114.90" x2="406.20" y2="117.80" stroke="#1a1a1a" stroke-width="0.9"/>
<line x1="415.53" y1="114.90" x2="415.53" y2="117.00" stroke="#1a1a1a" stroke-width="0.9"/>
<line x1="420.99" y1="114.90" x2="420.99" y2="117.00" stroke="#1a1a1a" stroke-width="0.9"/>
<line x1="424.86" y1="114.90" x2="424.86" y2="117.00" stroke="#1a1a1a" stroke-width="0.9"/>
<line x1="427.87" y1="114.90" x2="427.87" y2="117.00" stroke="#1a1a1a" stroke-width="0.9"/>
<line x1="430.32" y1="114.90" x2="430.32" y2="117.00" stroke="#1a1a1a" stroke-width="0.9"/>
<line x1="432.40" y1="114.90" x2="432.40" y2="117.00" stroke="#1a1a1a" stroke-width="0.9"/>
<line x1="434.20" y1="114.90" x2="434.20" y2="117.00" stroke="#1a1a1a" stroke-width="0.9"/>
<line x1="435.78" y1="114.90" x2="435.78" y2="117.00" stroke="#1a1a1a" stroke-width="0.9"/>
<line x1="437.20" y1="114.90" x2="437.20" y2="117.80" stroke="#1a1a1a" stroke-width="0.9"/>
<line x1="446.65" y1="114.90" x2="446.65" y2="117.00" stroke="#1a1a1a" stroke-width="0.9"/>
<line x1="452.18" y1="114.90" x2="452.18" y2="117.00" stroke="#1a1a1a" stroke-width="0.9"/>
<line x1="456.10" y1="114.90" x2="456.10" y2="117.00" stroke="#1a1a1a" stroke-width="0.9"/>
<line x1="459.15" y1="114.90" x2="459.15" y2="117.00" stroke="#1a1a1a" stroke-width="0.9"/>
<line x1="461.63" y1="114.90" x2="461.63" y2="117.00" stroke="#1a1a1a" stroke-width="0.9"/>
<line x1="463.74" y1="114.90" x2="463.74" y2="117.00" stroke="#1a1a1a" stroke-width="0.9"/>
<line x1="465.56" y1="114.90" x2="465.56" y2="117.00" stroke="#1a1a1a" stroke-width="0.9"/>
<line x1="467.16" y1="114.90" x2="467.16" y2="117.00" stroke="#1a1a1a" stroke-width="0.9"/>
<line x1="468.60" y1="114.90" x2="468.60" y2="117.80" stroke="#1a1a1a" stroke-width="0.9"/>
<line x1="477.66" y1="114.90" x2="477.66" y2="117.00" stroke="#1a1a1a" stroke-width="0.9"/>
<line x1="482.96" y1="114.90" x2="482.96" y2="117.00" stroke="#1a1a1a" stroke-width="0.9"/>
<line x1="486.72" y1="114.90" x2="486.72" y2="117.00" stroke="#1a1a1a" stroke-width="0.9"/>
<line x1="489.64" y1="114.90" x2="489.64" y2="117.00" stroke="#1a1a1a" stroke-width="0.9"/>
<line x1="492.02" y1="114.90" x2="492.02" y2="117.00" stroke="#1a1a1a" stroke-width="0.9"/>
<line x1="494.04" y1="114.90" x2="494.04" y2="117.00" stroke="#1a1a1a" stroke-width="0.9"/>
<line x1="495.78" y1="114.90" x2="495.78" y2="117.00" stroke="#1a1a1a" stroke-width="0.9"/>
<line x1="497.32" y1="114.90" x2="497.32" y2="117.00" stroke="#1a1a1a" stroke-width="0.9"/>
<line x1="498.70" y1="114.90" x2="498.70" y2="117.80" stroke="#1a1a1a" stroke-width="0.9"/>
<line x1="382.50" y1="114.90" x2="382.50" y2="117.80" stroke="#1a1a1a" stroke-width="0.9"/>
<line x1="385.46" y1="114.90" x2="385.46" y2="117.00" stroke="#1a1a1a" stroke-width="0.9"/>
<line x1="388.43" y1="114.90" x2="388.43" y2="117.00" stroke="#1a1a1a" stroke-width="0.9"/>
<line x1="391.39" y1="114.90" x2="391.39" y2="117.00" stroke="#1a1a1a" stroke-width="0.9"/>
<line x1="394.35" y1="114.90" x2="394.35" y2="117.00" stroke="#1a1a1a" stroke-width="0.9"/>
<line x1="397.31" y1="114.90" x2="397.31" y2="117.00" stroke="#1a1a1a" stroke-width="0.9"/>
<line x1="400.27" y1="114.90" x2="400.27" y2="117.00" stroke="#1a1a1a" stroke-width="0.9"/>
<line x1="403.24" y1="114.90" x2="403.24" y2="117.00" stroke="#1a1a1a" stroke-width="0.9"/>
<line x1="406.20" y1="114.90" x2="406.20" y2="117.80" stroke="#1a1a1a" stroke-width="0.9"/>
<line x1="130.50" y1="169.60" x2="130.50" y2="224.50" stroke="#1a1a1a" stroke-width="1.1"/>
<line x1="130.50" y1="235.00" x2="130.50" y2="302.00" stroke="#1a1a1a" stroke-width="1.1"/>
<line x1="127.30" y1="172.70" x2="130.50" y2="172.70" stroke="#1a1a1a" stroke-width="1.1"/>
<text x="102.07" y="175.20" font-size="8.6" textLength="22.24" lengthAdjust="spacingAndGlyphs" fill="#231f20">14000</text>
<line x1="127.30" y1="198.50" x2="130.50" y2="198.50" stroke="#1a1a1a" stroke-width="1.1"/>
<text x="102.07" y="201.00" font-size="8.6" textLength="22.24" lengthAdjust="spacingAndGlyphs" fill="#231f20">12000</text>
<line x1="127.30" y1="224.50" x2="133.90" y2="224.50" stroke="#1a1a1a" stroke-width="1.1"/>
<text x="102.07" y="227.00" font-size="8.6" textLength="22.24" lengthAdjust="spacingAndGlyphs" fill="#231f20">10000</text>
<line x1="127.30" y1="235.00" x2="133.90" y2="235.00" stroke="#1a1a1a" stroke-width="1.1"/>
<text x="106.52" y="237.50" font-size="8.6" textLength="17.79" lengthAdjust="spacingAndGlyphs" fill="#231f20">1500</text>
<line x1="127.30" y1="257.30" x2="130.50" y2="257.30" stroke="#1a1a1a" stroke-width="1.1"/>
<text x="106.52" y="259.80" font-size="8.6" textLength="17.79" lengthAdjust="spacingAndGlyphs" fill="#231f20">1000</text>
<line x1="127.30" y1="279.30" x2="130.50" y2="279.30" stroke="#1a1a1a" stroke-width="1.1"/>
<text x="110.96" y="281.80" font-size="8.6" textLength="13.34" lengthAdjust="spacingAndGlyphs" fill="#231f20">500</text>
<line x1="127.30" y1="301.50" x2="130.50" y2="301.50" stroke="#1a1a1a" stroke-width="1.1"/>
<text x="119.86" y="304.00" font-size="8.6" textLength="4.45" lengthAdjust="spacingAndGlyphs" fill="#231f20">0</text>
<line x1="127.30" y1="301.50" x2="366.40" y2="301.50" stroke="#1a1a1a" stroke-width="1.15"/>
<line x1="363.50" y1="169.50" x2="363.50" y2="301.50" stroke="#1a1a1a" stroke-width="1.1"/>
<line x1="363.50" y1="301.50" x2="366.40" y2="301.50" stroke="#1a1a1a" stroke-width="1.1"/>
<text x="369.88" y="304.30" font-size="8.6" textLength="4.45" lengthAdjust="spacingAndGlyphs" fill="#231f20">0</text>
<line x1="363.50" y1="269.32" x2="366.40" y2="269.32" stroke="#1a1a1a" stroke-width="1.1"/>
<text x="369.80" y="272.12" font-size="8.6" textLength="17.79" lengthAdjust="spacingAndGlyphs" fill="#231f20">2000</text>
<line x1="363.50" y1="237.14" x2="366.40" y2="237.14" stroke="#1a1a1a" stroke-width="1.1"/>
<text x="370.02" y="239.94" font-size="8.6" textLength="17.79" lengthAdjust="spacingAndGlyphs" fill="#231f20">4000</text>
<line x1="363.50" y1="204.96" x2="366.40" y2="204.96" stroke="#1a1a1a" stroke-width="1.1"/>
<text x="369.80" y="207.76" font-size="8.6" textLength="17.79" lengthAdjust="spacingAndGlyphs" fill="#231f20">6000</text>
<line x1="363.50" y1="172.78" x2="366.40" y2="172.78" stroke="#1a1a1a" stroke-width="1.1"/>
<text x="369.86" y="175.58" font-size="8.6" textLength="17.79" lengthAdjust="spacingAndGlyphs" fill="#231f20">8000</text>
<text transform="translate(94.80,281.00) rotate(-90)" x="-0.38" y="0" font-size="9.6" textLength="72.41" lengthAdjust="spacingAndGlyphs" fill="#231f20">anti-C3c/KKO MFI</text>
<text transform="translate(395.30,205.70) rotate(90)" x="-0.42" y="0" font-size="9.6" textLength="55.84" lengthAdjust="spacingAndGlyphs" fill="#231f20">anti-IgM MFI</text>
<rect x="137.50" y="297.90" width="11.50" height="3.60" fill="#4f2466" stroke="#3f1552" stroke-width="0.8"/>
<line x1="140.50" y1="296.50" x2="146.50" y2="296.50" stroke="#1a1a1a" stroke-width="1.1"/>
<rect x="153.60" y="297.90" width="11.60" height="3.60" fill="#ecb820" stroke="#dcaa14" stroke-width="0.8"/>
<line x1="156.50" y1="296.50" x2="162.50" y2="296.50" stroke="#1a1a1a" stroke-width="1.1"/>
<rect x="169.60" y="261.20" width="11.90" height="40.30" fill="#a3002f" stroke="#8c0026" stroke-width="0.8"/>
<line x1="175.50" y1="260.80" x2="175.50" y2="252.50" stroke="#1a1a1a" stroke-width="1.0"/>
<line x1="172.50" y1="252.50" x2="178.50" y2="252.50" stroke="#1a1a1a" stroke-width="1.1"/>
<rect x="184.70" y="296.90" width="12.80" height="4.60" fill="url(#hatchB)" stroke="#6aac3f" stroke-width="1.1"/>
<line x1="188.50" y1="296.50" x2="194.50" y2="296.50" stroke="#1a1a1a" stroke-width="1.1"/>
<rect x="217.40" y="300.40" width="11.40" height="1.10" fill="#4f2466" stroke="#3f1552" stroke-width="0.8"/>
<line x1="220.50" y1="299.50" x2="226.50" y2="299.50" stroke="#1a1a1a" stroke-width="1.1"/>
<rect x="232.80" y="299.30" width="12.10" height="2.20" fill="#ecb820" stroke="#dcaa14" stroke-width="0.8"/>
<line x1="235.50" y1="298.50" x2="241.50" y2="298.50" stroke="#1a1a1a" stroke-width="1.1"/>
<rect x="248.70" y="193.80" width="11.90" height="107.70" fill="#a3002f" stroke="#8c0026" stroke-width="0.8"/>
<line x1="254.50" y1="193.40" x2="254.50" y2="183.50" stroke="#1a1a1a" stroke-width="1.0"/>
<line x1="251.50" y1="183.50" x2="257.50" y2="183.50" stroke="#1a1a1a" stroke-width="1.1"/>
<rect x="247.50" y="223.50" width="14.50" height="11.40" fill="#fff"/>
<rect x="264.00" y="299.40" width="12.80" height="2.10" fill="url(#hatchB)" stroke="#6aac3f" stroke-width="1.1"/>
<line x1="267.50" y1="298.50" x2="273.50" y2="298.50" stroke="#1a1a1a" stroke-width="1.1"/>
<rect x="296.60" y="271.50" width="11.90" height="30.00" fill="#4f2466" stroke="#3f1552" stroke-width="0.8"/>
<line x1="299.50" y1="269.50" x2="305.50" y2="269.50" stroke="#1a1a1a" stroke-width="1.1"/>
<rect x="312.20" y="263.90" width="12.20" height="37.60" fill="#ecb820" stroke="#dcaa14" stroke-width="0.8"/>
<line x1="315.50" y1="262.50" x2="321.50" y2="262.50" stroke="#1a1a1a" stroke-width="1.1"/>
<rect x="328.40" y="201.90" width="11.80" height="99.60" fill="#a3002f" stroke="#8c0026" stroke-width="0.8"/>
<line x1="334.50" y1="201.50" x2="334.50" y2="196.50" stroke="#1a1a1a" stroke-width="1.0"/>
<line x1="331.50" y1="196.50" x2="337.50" y2="196.50" stroke="#1a1a1a" stroke-width="1.1"/>
<rect x="343.80" y="270.70" width="12.50" height="30.80" fill="url(#hatchB)" stroke="#6aac3f" stroke-width="1.1"/>
<line x1="347.50" y1="270.50" x2="353.50" y2="270.50" stroke="#1a1a1a" stroke-width="1.1"/>
<line x1="127.30" y1="301.50" x2="366.40" y2="301.50" stroke="#1a1a1a" stroke-width="1.15"/>
<path d="M143.5,267.1 V232.5 H174.5 V249.2" stroke="#2b2b2b" stroke-width="1.1" fill="none"/>
<path d="M159.5,267.1 V242.5 H174.5" stroke="#2b2b2b" stroke-width="1.1" fill="none"/>
<path d="M191.5,267.1 V232.5 H176.5 V249.2" stroke="#2b2b2b" stroke-width="1.1" fill="none"/>
<path d="M222.5,198.0 V163.5 H254.5 V179.5" stroke="#2b2b2b" stroke-width="1.1" fill="none"/>
<path d="M238.5,196.5 V173.5 H254.5" stroke="#2b2b2b" stroke-width="1.1" fill="none"/>
<path d="M270.5,198.0 V163.5 H256.5 V179.5" stroke="#2b2b2b" stroke-width="1.1" fill="none"/>
<path d="M302.5,210.5 V175.5 H333.5 V192.6" stroke="#2b2b2b" stroke-width="1.1" fill="none"/>
<path d="M318.5,209.5 V186.5 H333.5" stroke="#2b2b2b" stroke-width="1.1" fill="none"/>
<path d="M349.5,210.5 V175.5 H335.5 V192.6" stroke="#2b2b2b" stroke-width="1.1" fill="none"/>
<circle cx="157.00" cy="227.50" r="1.15" fill="#2a2a2a"/>
<circle cx="160.80" cy="227.50" r="1.15" fill="#2a2a2a"/>
<circle cx="165.30" cy="237.90" r="1.15" fill="#2a2a2a"/>
<circle cx="169.10" cy="237.90" r="1.15" fill="#2a2a2a"/>
<circle cx="182.00" cy="227.50" r="1.15" fill="#2a2a2a"/>
<circle cx="185.80" cy="227.50" r="1.15" fill="#2a2a2a"/>
<circle cx="236.90" cy="158.50" r="1.15" fill="#2a2a2a"/>
<circle cx="240.70" cy="158.50" r="1.15" fill="#2a2a2a"/>
<circle cx="244.70" cy="168.80" r="1.15" fill="#2a2a2a"/>
<circle cx="248.50" cy="168.80" r="1.15" fill="#2a2a2a"/>
<circle cx="261.90" cy="158.50" r="1.15" fill="#2a2a2a"/>
<circle cx="265.70" cy="158.50" r="1.15" fill="#2a2a2a"/>
<circle cx="316.10" cy="171.10" r="1.15" fill="#2a2a2a"/>
<circle cx="319.90" cy="171.10" r="1.15" fill="#2a2a2a"/>
<circle cx="323.90" cy="181.50" r="1.15" fill="#2a2a2a"/>
<circle cx="327.70" cy="181.50" r="1.15" fill="#2a2a2a"/>
<circle cx="340.90" cy="171.10" r="1.15" fill="#2a2a2a"/>
<circle cx="344.70" cy="171.10" r="1.15" fill="#2a2a2a"/>
<text x="151.86" y="312.60" font-size="8.5" textLength="30.16" lengthAdjust="spacingAndGlyphs" fill="#231f20">anti-C3c</text>
<text x="238.58" y="312.50" font-size="8.5" textLength="15.98" lengthAdjust="spacingAndGlyphs" fill="#231f20">KKO</text>
<text x="310.63" y="312.60" font-size="8.5" textLength="31.28" lengthAdjust="spacingAndGlyphs" fill="#231f20">anti-IgM</text>
<rect x="413.10" y="176.40" width="11.00" height="7.50" fill="#4f2466"/>
<rect x="413.10" y="188.60" width="11.00" height="7.30" fill="#ecb820"/>
<rect x="413.10" y="200.50" width="11.00" height="7.30" fill="#a3002f"/>
<rect x="413.50" y="211.90" width="10.80" height="7.60" fill="url(#hatchS)" stroke="#6aac3f" stroke-width="1.15"/>
<text x="426.86" y="182.60" font-size="8.4" textLength="20.56" lengthAdjust="spacingAndGlyphs" fill="#231f20">Buffer</text>
<text x="426.90" y="194.70" font-size="8.4" textLength="33.43" lengthAdjust="spacingAndGlyphs" fill="#231f20">PF4 alone</text>
<text x="426.86" y="206.70" font-size="8.4" textLength="42.12" lengthAdjust="spacingAndGlyphs" fill="#231f20">PF4/heparin</text>
<text x="426.86" y="218.30" font-size="8.4" textLength="42.12" lengthAdjust="spacingAndGlyphs" fill="#231f20">PF4/heparin</text>
<text x="427.13" y="228.20" font-size="8.4" textLength="41.22" lengthAdjust="spacingAndGlyphs" fill="#231f20">(with excess</text>
<text x="426.97" y="237.80" font-size="8.4" textLength="47.90" lengthAdjust="spacingAndGlyphs" fill="#231f20">heparin wash)</text>
<line x1="138.80" y1="341.50" x2="159.90" y2="341.50" stroke="#c6037b" stroke-width="1.3"/>
<text x="166.33" y="344.10" font-size="8.6" textLength="42.29" lengthAdjust="spacingAndGlyphs" fill="#231f20">Pre heparin</text>
<line x1="211.90" y1="341.30" x2="233.10" y2="341.30" stroke="#4a5368" stroke-width="1.3"/>
<text x="239.11" y="344.10" font-size="8.6" textLength="47.01" lengthAdjust="spacingAndGlyphs" fill="#231f20">Post heparin</text>
<path d="M34.00,439.40 L36.18,439.40 L38.36,439.40 L40.54,439.40 L42.72,439.40 L44.90,439.40 L47.08,439.40 L49.26,439.40 L51.44,439.40 L53.62,439.40 L55.80,439.40 L57.90,438.50 L59.70,436.68 L61.50,435.80 L63.50,433.70 L65.40,432.13 L67.30,430.40 L69.55,428.72 L71.80,427.50 L75.00,426.20 L77.40,425.30 L79.10,427.09 L80.80,428.50 L83.00,428.60 L84.60,427.70 L86.50,429.30 L88.60,429.50 L89.80,427.98 L91.00,426.00 L92.55,422.72 L94.10,421.00 L95.40,418.46 L96.70,418.27 L98.00,416.00 L99.50,414.00 L101.00,412.39 L102.50,411.30 L104.25,410.54 L106.00,408.00 L107.63,406.75 L109.27,406.21 L110.90,404.40 L114.00,402.50 L116.40,402.40 L119.00,403.50 L121.00,404.00 L122.90,405.56 L124.80,407.20 L126.90,409.10 L129.00,410.50 L131.10,411.67 L133.20,414.10 L134.47,415.98 L135.73,418.03 L137.00,419.00 L138.50,421.14 L140.00,423.63 L141.50,425.30 L143.25,427.46 L145.00,429.00 L146.63,429.78 L148.27,432.60 L149.90,433.70 L151.45,435.41 L153.00,436.80 L155.50,438.70 L158.00,439.40 L160.20,439.40 L162.40,439.40 L164.60,439.40 L166.80,439.40 L169.00,439.40" stroke="#4a5368" stroke-width="1.2" fill="none"/>
<path d="M34.00,439.40 L35.20,439.40 L36.40,439.40 L37.60,439.40 L38.80,439.40 L40.00,439.40 L41.20,439.40 L42.40,439.40 L43.60,439.40 L44.80,439.40 L46.00,439.40 L47.17,438.87 L48.33,438.30 L49.50,437.80 L50.17,436.58 L50.83,435.56 L51.50,434.00 L51.96,432.78 L52.42,431.61 L52.88,430.46 L53.34,428.98 L53.80,428.00 L54.07,426.76 L54.35,425.59 L54.62,424.46 L54.90,422.72 L55.17,421.61 L55.45,420.21 L55.73,419.47 L56.00,418.00 L56.19,416.92 L56.38,415.24 L56.57,414.68 L56.76,413.45 L56.95,412.01 L57.14,410.76 L57.33,409.22 L57.52,407.90 L57.71,407.04 L57.90,405.80 L58.24,404.17 L58.58,402.94 L58.92,401.66 L59.26,400.19 L59.60,399.20 L59.80,397.99 L60.00,396.79 L60.20,395.89 L60.40,394.48 L60.60,393.38 L60.80,392.10 L61.00,391.03 L61.20,389.70 L61.40,388.39 L61.60,387.72 L61.80,386.53 L62.00,385.00 L62.19,383.99 L62.38,382.65 L62.56,381.12 L62.75,379.81 L62.94,378.60 L63.12,377.20 L63.31,376.44 L63.50,375.00 L63.70,373.74 L63.90,372.87 L64.10,371.36 L64.30,370.58 L64.50,369.31 L64.70,367.54 L64.90,366.70 L65.32,365.16 L65.74,364.31 L66.16,362.66 L66.58,361.68 L67.00,360.00 L67.75,358.73 L68.50,357.60 L70.00,357.40 L71.50,358.50 L72.00,359.70 L72.50,361.59 L73.00,363.00 L73.30,364.39 L73.60,365.24 L73.90,366.31 L74.20,367.68 L74.50,369.00 L74.80,370.54 L75.10,371.62 L75.40,372.39 L75.70,373.70 L76.00,375.10 L76.50,376.05 L77.00,377.24 L77.50,378.98 L78.00,380.00 L78.31,381.06 L78.63,382.61 L78.94,383.82 L79.26,384.93 L79.57,386.59 L79.89,387.46 L80.20,389.00 L80.51,390.32 L80.82,391.18 L81.13,392.61 L81.44,393.69 L81.76,394.95 L82.07,396.66 L82.38,397.77 L82.69,398.64 L83.00,400.00 L83.31,401.52 L83.62,402.31 L83.93,403.69 L84.24,405.27 L84.56,406.38 L84.87,407.25 L85.18,409.13 L85.49,409.84 L85.80,411.30 L86.10,412.35 L86.40,413.94 L86.70,414.85 L87.00,416.05 L87.30,417.11 L87.60,418.35 L87.90,419.91 L88.20,420.90 L88.50,422.30 L89.08,423.61 L89.66,424.69 L90.24,425.99 L90.82,427.58 L91.40,428.50 L92.10,429.81 L92.80,431.20 L93.50,432.73 L94.20,433.80 L95.13,434.58 L96.07,435.56 L97.00,436.80 L98.35,438.04 L99.70,438.70 L100.85,439.05 L102.00,439.40 L103.22,439.40 L104.44,439.40 L105.65,439.40 L106.87,439.40 L108.09,439.40 L109.31,439.40 L110.53,439.40 L111.75,439.40 L112.96,439.40 L114.18,439.40 L115.40,439.40 L116.62,439.40 L117.84,439.40 L119.05,439.40 L120.27,439.40 L121.49,439.40 L122.71,439.40 L123.93,439.40 L125.15,439.40 L126.36,439.40 L127.58,439.40 L128.80,439.40 L130.02,439.40 L131.24,439.40 L132.45,439.40 L133.67,439.40 L134.89,439.40 L136.11,439.40 L137.33,439.40 L138.55,439.40 L139.76,439.40 L140.98,439.40 L142.20,439.40 L143.42,439.40 L144.64,439.40 L145.85,439.40 L147.07,439.40 L148.29,439.40 L149.51,439.40 L150.73,439.40 L151.95,439.40 L153.16,439.40 L154.38,439.40 L155.60,439.40 L156.82,439.40 L158.04,439.40 L159.25,439.40 L160.47,439.40 L161.69,439.40 L162.91,439.40 L164.13,439.40 L165.35,439.40 L166.56,439.40 L167.78,439.40 L169.00,439.40" stroke="#c6037b" stroke-width="1.3" fill="none"/>
<path d="M211.40,439.40 L213.46,439.40 L215.53,439.40 L217.59,439.40 L219.65,439.40 L221.72,439.40 L223.78,439.40 L225.85,439.40 L227.91,439.40 L229.97,439.40 L232.04,439.40 L234.10,439.40 L235.90,437.65 L237.70,435.50 L240.00,432.50 L241.60,431.64 L243.20,430.00 L246.00,429.50 L248.60,428.50 L251.00,428.20 L253.20,426.70 L255.00,428.37 L256.80,429.10 L259.00,427.50 L261.40,426.40 L263.50,427.50 L265.50,428.20 L268.00,427.00 L270.00,425.00 L271.35,424.11 L272.70,421.80 L274.10,419.78 L275.50,417.00 L276.85,415.08 L278.20,411.80 L278.90,408.85 L279.60,407.34 L280.30,405.91 L281.00,403.00 L281.65,400.89 L282.30,398.94 L282.95,395.33 L283.60,393.60 L284.55,390.75 L285.50,388.00 L287.30,384.50 L290.00,382.00 L292.70,381.30 L295.00,384.00 L296.07,385.29 L297.13,387.47 L298.20,389.10 L299.60,391.67 L301.00,394.00 L302.30,395.77 L303.60,399.10 L304.57,400.95 L305.53,403.35 L306.50,406.00 L307.15,408.57 L307.80,410.23 L308.45,411.16 L309.10,413.60 L310.07,416.21 L311.03,417.29 L312.00,420.00 L312.83,422.32 L313.67,423.67 L314.50,426.40 L315.75,427.90 L317.00,431.00 L318.50,433.84 L320.00,435.50 L322.50,438.00 L324.50,439.40 L326.55,439.40 L328.60,439.40 L330.65,439.40 L332.70,439.40 L334.75,439.40 L336.80,439.40 L338.85,439.40 L340.90,439.40 L342.95,439.40 L345.00,439.40" stroke="#4a5368" stroke-width="1.2" fill="none"/>
<path d="M211.40,439.40 L212.62,439.40 L213.83,439.40 L215.05,439.40 L216.26,439.40 L217.48,439.40 L218.69,439.40 L219.91,439.40 L221.12,439.40 L222.34,439.40 L223.55,439.40 L224.77,439.40 L225.98,439.40 L227.20,439.40 L227.77,437.88 L228.35,436.83 L228.93,435.48 L229.50,434.00 L230.06,433.08 L230.62,431.46 L231.18,430.33 L231.74,429.11 L232.30,428.20 L232.74,426.77 L233.18,425.88 L233.62,424.22 L234.06,423.26 L234.50,422.00 L234.96,420.50 L235.42,419.26 L235.88,418.05 L236.34,417.04 L236.80,415.50 L237.03,414.33 L237.27,412.66 L237.50,411.59 L237.73,410.25 L237.97,409.51 L238.20,408.00 L238.42,407.03 L238.63,405.85 L238.85,404.68 L239.07,403.44 L239.28,402.40 L239.50,400.90 L239.70,399.82 L239.90,398.15 L240.10,397.27 L240.30,395.73 L240.50,394.63 L240.70,393.20 L240.90,391.82 L241.10,390.48 L241.30,389.24 L241.50,388.00 L241.67,386.62 L241.84,385.23 L242.01,384.47 L242.18,383.21 L242.35,382.09 L242.52,380.63 L242.69,379.29 L242.86,378.17 L243.03,376.49 L243.20,375.50 L243.39,374.41 L243.57,373.03 L243.76,371.63 L243.94,370.43 L244.13,369.44 L244.31,368.04 L244.50,367.00 L244.97,365.54 L245.43,364.21 L245.90,362.70 L246.43,361.23 L246.97,359.64 L247.50,358.50 L249.50,357.60 L251.50,358.50 L252.35,359.69 L253.20,360.90 L253.50,361.90 L253.80,363.08 L254.10,364.24 L254.40,365.54 L254.70,366.52 L255.00,368.00 L255.30,369.36 L255.60,370.82 L255.90,371.67 L256.20,373.15 L256.50,374.55 L256.80,375.50 L257.23,376.31 L257.65,377.50 L258.07,379.09 L258.50,380.00 L259.00,381.36 L259.50,382.35 L260.00,383.14 L260.50,384.50 L261.00,385.94 L261.50,387.76 L262.00,389.00 L262.32,390.57 L262.64,391.81 L262.96,392.69 L263.28,394.45 L263.60,395.50 L263.98,396.71 L264.36,398.25 L264.74,399.15 L265.12,401.03 L265.50,402.00 L265.80,403.36 L266.10,404.73 L266.40,405.66 L266.70,407.24 L267.00,408.50 L267.30,409.80 L267.60,410.92 L267.90,412.47 L268.20,413.60 L268.56,414.77 L268.92,416.02 L269.28,417.21 L269.64,418.85 L270.00,420.00 L270.36,421.01 L270.72,422.37 L271.08,423.54 L271.44,425.22 L271.80,426.40 L272.53,427.47 L273.27,428.50 L274.00,429.50 L275.05,430.20 L276.10,431.51 L277.15,432.47 L278.20,433.60 L279.13,434.28 L280.07,435.19 L281.00,436.50 L282.17,437.58 L283.33,437.70 L284.50,438.70 L285.75,439.05 L287.00,439.40 L288.21,439.40 L289.42,439.40 L290.62,439.40 L291.83,439.40 L293.04,439.40 L294.25,439.40 L295.46,439.40 L296.67,439.40 L297.88,439.40 L299.08,439.40 L300.29,439.40 L301.50,439.40 L302.71,439.40 L303.92,439.40 L305.12,439.40 L306.33,439.40 L307.54,439.40 L308.75,439.40 L309.96,439.40 L311.17,439.40 L312.38,439.40 L313.58,439.40 L314.79,439.40 L316.00,439.40 L317.21,439.40 L318.42,439.40 L319.62,439.40 L320.83,439.40 L322.04,439.40 L323.25,439.40 L324.46,439.40 L325.67,439.40 L326.88,439.40 L328.08,439.40 L329.29,439.40 L330.50,439.40 L331.71,439.40 L332.92,439.40 L334.12,439.40 L335.33,439.40 L336.54,439.40 L337.75,439.40 L338.96,439.40 L340.17,439.40 L341.38,439.40 L342.58,439.40 L343.79,439.40 L345.00,439.40" stroke="#c6037b" stroke-width="1.3" fill="none"/>
<path d="M377.70,439.40 L378.94,439.40 L380.18,439.40 L381.42,439.40 L382.66,439.40 L383.90,439.40 L385.15,439.40 L386.39,439.40 L387.63,439.40 L388.87,439.40 L390.11,439.40 L391.35,439.40 L392.59,439.40 L393.83,439.40 L395.07,439.40 L396.31,439.40 L397.55,439.40 L398.80,439.40 L400.04,439.40 L401.28,439.40 L402.52,439.40 L403.76,439.40 L405.00,439.40 L406.18,439.16 L407.36,438.92 L408.54,438.68 L409.72,438.44 L410.90,438.20 L412.43,437.98 L413.97,437.95 L415.50,437.50 L417.00,437.46 L418.50,436.62 L420.00,436.40 L421.50,436.14 L423.00,435.50 L424.25,434.89 L425.50,434.00 L426.70,433.68 L427.90,432.86 L429.10,432.70 L430.30,432.80 L431.50,433.49 L432.70,434.00 L433.85,433.12 L435.00,431.90 L436.00,430.88 L437.00,430.20 L437.75,429.25 L438.50,428.17 L439.25,427.59 L440.00,426.40 L440.77,425.51 L441.53,423.93 L442.30,422.80 L442.84,421.99 L443.38,420.17 L443.92,419.54 L444.46,418.42 L445.00,417.00 L445.68,415.48 L446.35,414.59 L447.02,413.22 L447.70,411.90 L448.40,411.24 L449.10,409.75 L449.80,409.00 L450.50,408.00 L451.40,407.13 L452.30,405.83 L453.20,404.60 L453.90,403.32 L454.60,402.01 L455.30,401.46 L456.00,400.00 L456.68,398.86 L457.35,398.10 L458.02,396.37 L458.70,395.50 L459.26,394.42 L459.82,393.12 L460.38,391.89 L460.94,389.96 L461.50,389.00 L462.02,387.67 L462.54,386.21 L463.06,385.46 L463.58,383.94 L464.10,382.80 L464.50,381.99 L464.90,380.45 L465.30,379.59 L465.70,378.52 L466.10,376.95 L466.50,376.00 L466.94,374.84 L467.38,373.92 L467.82,372.42 L468.26,371.10 L468.70,370.00 L469.30,368.64 L469.90,367.80 L470.50,366.40 L472.00,367.50 L473.20,368.20 L474.50,367.50 L475.25,368.53 L476.00,370.00 L477.50,370.50 L478.10,372.17 L478.70,373.70 L478.96,375.00 L479.22,376.26 L479.48,377.22 L479.74,378.85 L480.00,380.00 L480.28,381.57 L480.56,382.43 L480.84,383.72 L481.12,385.41 L481.40,386.40 L481.75,387.85 L482.10,389.04 L482.45,390.26 L482.80,392.00 L483.12,393.50 L483.45,394.54 L483.78,395.95 L484.10,397.30 L484.48,398.48 L484.86,400.07 L485.24,401.48 L485.62,402.53 L486.00,404.00 L486.36,404.92 L486.72,406.78 L487.08,407.95 L487.44,408.54 L487.80,410.10 L488.14,411.42 L488.48,412.79 L488.82,413.87 L489.16,415.38 L489.50,416.50 L489.88,418.08 L490.26,419.08 L490.64,420.20 L491.02,421.33 L491.40,422.80 L491.88,423.93 L492.35,425.16 L492.82,426.43 L493.30,428.00 L493.90,429.10 L494.50,430.84 L495.10,431.90 L495.90,432.96 L496.70,434.18 L497.50,435.00 L498.50,436.09 L499.50,436.82 L500.50,437.40 L501.75,437.68 L503.00,438.60 L505.10,439.40 L506.42,439.40 L507.73,439.40 L509.05,439.40 L510.37,439.40 L511.68,439.40 L513.00,439.40" stroke="#c6037b" stroke-width="1.3" fill="none"/>
<path d="M377.70,439.40 L379.78,439.40 L381.86,439.40 L383.93,439.40 L386.01,439.40 L388.09,439.40 L390.17,439.40 L392.24,439.40 L394.32,439.40 L396.40,439.40 L398.93,439.10 L401.47,438.80 L404.00,438.50 L406.18,437.92 L408.35,437.34 L410.52,437.84 L412.70,437.30 L415.50,436.30 L418.20,435.80 L421.00,436.20 L423.60,436.90 L426.50,438.00 L429.10,438.70 L431.50,438.20 L434.50,437.30 L437.00,436.30 L440.00,435.50 L442.05,434.12 L444.10,434.10 L448.00,434.30 L451.00,435.00 L453.20,434.60 L455.00,432.50 L456.80,431.00 L459.50,430.00 L462.30,429.20 L465.00,426.50 L466.40,424.71 L467.80,422.80 L469.15,420.44 L470.50,418.50 L471.85,415.39 L473.20,413.70 L473.80,411.15 L474.40,407.83 L475.00,406.00 L475.48,403.72 L475.95,400.96 L476.42,398.82 L476.90,397.30 L477.35,395.23 L477.80,393.92 L478.25,390.85 L478.70,389.50 L479.30,386.82 L479.90,385.24 L480.50,382.80 L480.95,381.57 L481.40,379.02 L481.85,376.78 L482.30,375.00 L482.90,373.50 L483.50,369.74 L484.10,368.20 L484.73,366.71 L485.37,363.73 L486.00,362.00 L486.90,359.53 L487.80,358.20 L489.50,359.50 L491.40,362.70 L493.20,365.00 L495.10,366.40 L496.05,367.59 L497.00,370.00 L497.85,372.44 L498.70,375.50 L499.30,378.17 L499.90,379.32 L500.50,382.00 L501.10,384.20 L501.70,386.36 L502.30,388.20 L503.15,390.65 L504.00,393.50 L505.00,396.38 L506.00,399.10 L506.75,401.10 L507.50,404.50 L508.10,406.60 L508.70,410.10 L509.00,412.26 L509.30,415.66 L509.60,418.00 L509.83,419.98 L510.05,421.90 L510.27,424.44 L510.50,426.40 L511.50,430.00 L512.40,431.90 L513.30,432.30" stroke="#4a5368" stroke-width="1.2" fill="none"/>
<path d="M33.7,357.2 H169.8 V439.4 H33.7 Z" stroke="#1a1a1a" stroke-width="1.5" fill="none"/>
<line x1="30.20" y1="439.40" x2="33.70" y2="439.40" stroke="#1a1a1a" stroke-width="1.1"/>
<text x="24.41" y="441.60" font-size="8.8" textLength="4.50" lengthAdjust="spacingAndGlyphs" fill="#231f20">0</text>
<line x1="31.70" y1="434.26" x2="33.70" y2="434.26" stroke="#1a1a1a" stroke-width="0.9"/>
<line x1="31.70" y1="429.12" x2="33.70" y2="429.12" stroke="#1a1a1a" stroke-width="0.9"/>
<line x1="31.70" y1="423.99" x2="33.70" y2="423.99" stroke="#1a1a1a" stroke-width="0.9"/>
<line x1="30.20" y1="418.85" x2="33.70" y2="418.85" stroke="#1a1a1a" stroke-width="1.1"/>
<text x="24.49" y="421.05" font-size="8.8" textLength="4.50" lengthAdjust="spacingAndGlyphs" fill="#231f20">1</text>
<line x1="31.70" y1="413.71" x2="33.70" y2="413.71" stroke="#1a1a1a" stroke-width="0.9"/>
<line x1="31.70" y1="408.57" x2="33.70" y2="408.57" stroke="#1a1a1a" stroke-width="0.9"/>
<line x1="31.70" y1="403.44" x2="33.70" y2="403.44" stroke="#1a1a1a" stroke-width="0.9"/>
<line x1="30.20" y1="398.30" x2="33.70" y2="398.30" stroke="#1a1a1a" stroke-width="1.1"/>
<text x="24.49" y="400.50" font-size="8.8" textLength="4.50" lengthAdjust="spacingAndGlyphs" fill="#231f20">1</text>
<line x1="31.70" y1="393.16" x2="33.70" y2="393.16" stroke="#1a1a1a" stroke-width="0.9"/>
<line x1="31.70" y1="388.02" x2="33.70" y2="388.02" stroke="#1a1a1a" stroke-width="0.9"/>
<line x1="31.70" y1="382.89" x2="33.70" y2="382.89" stroke="#1a1a1a" stroke-width="0.9"/>
<line x1="30.20" y1="377.75" x2="33.70" y2="377.75" stroke="#1a1a1a" stroke-width="1.1"/>
<text x="24.51" y="379.95" font-size="8.8" textLength="4.50" lengthAdjust="spacingAndGlyphs" fill="#231f20">2</text>
<line x1="31.70" y1="372.61" x2="33.70" y2="372.61" stroke="#1a1a1a" stroke-width="0.9"/>
<line x1="31.70" y1="367.48" x2="33.70" y2="367.48" stroke="#1a1a1a" stroke-width="0.9"/>
<line x1="31.70" y1="362.34" x2="33.70" y2="362.34" stroke="#1a1a1a" stroke-width="0.9"/>
<line x1="30.20" y1="357.20" x2="33.70" y2="357.20" stroke="#1a1a1a" stroke-width="1.1"/>
<text x="24.45" y="359.40" font-size="8.8" textLength="4.50" lengthAdjust="spacingAndGlyphs" fill="#231f20">3</text>
<text transform="translate(18.80,412.30) rotate(-90)" x="-0.50" y="0" font-size="11.0" textLength="26.48" lengthAdjust="spacingAndGlyphs" fill="#231f20">Count</text>
<text x="39.34" y="456.60" font-size="9.2" textLength="11.70" lengthAdjust="spacingAndGlyphs" fill="#231f20">-10</text>
<text x="50.93" y="452.90" font-size="6.4" textLength="3.38" lengthAdjust="spacingAndGlyphs" fill="#231f20">2</text>
<text x="56.09" y="456.60" font-size="9.2" textLength="9.01" lengthAdjust="spacingAndGlyphs" fill="#231f20">10</text>
<text x="64.97" y="452.90" font-size="6.4" textLength="3.38" lengthAdjust="spacingAndGlyphs" fill="#231f20">2</text>
<text x="86.69" y="456.60" font-size="9.2" textLength="9.01" lengthAdjust="spacingAndGlyphs" fill="#231f20">10</text>
<text x="95.65" y="452.90" font-size="6.4" textLength="3.38" lengthAdjust="spacingAndGlyphs" fill="#231f20">3</text>
<text x="119.29" y="456.60" font-size="9.2" textLength="9.01" lengthAdjust="spacingAndGlyphs" fill="#231f20">10</text>
<text x="128.34" y="452.90" font-size="6.4" textLength="3.38" lengthAdjust="spacingAndGlyphs" fill="#231f20">4</text>
<text x="149.49" y="456.60" font-size="9.2" textLength="9.01" lengthAdjust="spacingAndGlyphs" fill="#231f20">10</text>
<text x="158.43" y="452.90" font-size="6.4" textLength="3.38" lengthAdjust="spacingAndGlyphs" fill="#231f20">5</text>
<text x="111.68" y="371.00" font-size="8.3" textLength="29.53" lengthAdjust="spacingAndGlyphs" fill="#231f20">Anti-C3c</text>
<path d="M211.4,357.3 H345.1 V439.4 H211.4 Z" stroke="#1a1a1a" stroke-width="1.5" fill="none"/>
<line x1="207.90" y1="439.40" x2="211.40" y2="439.40" stroke="#1a1a1a" stroke-width="1.1"/>
<text x="202.31" y="441.60" font-size="8.8" textLength="4.50" lengthAdjust="spacingAndGlyphs" fill="#231f20">0</text>
<line x1="209.40" y1="434.27" x2="211.40" y2="434.27" stroke="#1a1a1a" stroke-width="0.9"/>
<line x1="209.40" y1="429.14" x2="211.40" y2="429.14" stroke="#1a1a1a" stroke-width="0.9"/>
<line x1="209.40" y1="424.01" x2="211.40" y2="424.01" stroke="#1a1a1a" stroke-width="0.9"/>
<line x1="207.90" y1="418.88" x2="211.40" y2="418.88" stroke="#1a1a1a" stroke-width="1.1"/>
<text x="202.39" y="421.07" font-size="8.8" textLength="4.50" lengthAdjust="spacingAndGlyphs" fill="#231f20">1</text>
<line x1="209.40" y1="413.74" x2="211.40" y2="413.74" stroke="#1a1a1a" stroke-width="0.9"/>
<line x1="209.40" y1="408.61" x2="211.40" y2="408.61" stroke="#1a1a1a" stroke-width="0.9"/>
<line x1="209.40" y1="403.48" x2="211.40" y2="403.48" stroke="#1a1a1a" stroke-width="0.9"/>
<line x1="207.90" y1="398.35" x2="211.40" y2="398.35" stroke="#1a1a1a" stroke-width="1.1"/>
<text x="202.39" y="400.55" font-size="8.8" textLength="4.50" lengthAdjust="spacingAndGlyphs" fill="#231f20">1</text>
<line x1="209.40" y1="393.22" x2="211.40" y2="393.22" stroke="#1a1a1a" stroke-width="0.9"/>
<line x1="209.40" y1="388.09" x2="211.40" y2="388.09" stroke="#1a1a1a" stroke-width="0.9"/>
<line x1="209.40" y1="382.96" x2="211.40" y2="382.96" stroke="#1a1a1a" stroke-width="0.9"/>
<line x1="207.90" y1="377.82" x2="211.40" y2="377.82" stroke="#1a1a1a" stroke-width="1.1"/>
<text x="202.41" y="380.02" font-size="8.8" textLength="4.50" lengthAdjust="spacingAndGlyphs" fill="#231f20">2</text>
<line x1="209.40" y1="372.69" x2="211.40" y2="372.69" stroke="#1a1a1a" stroke-width="0.9"/>
<line x1="209.40" y1="367.56" x2="211.40" y2="367.56" stroke="#1a1a1a" stroke-width="0.9"/>
<line x1="209.40" y1="362.43" x2="211.40" y2="362.43" stroke="#1a1a1a" stroke-width="0.9"/>
<line x1="207.90" y1="357.30" x2="211.40" y2="357.30" stroke="#1a1a1a" stroke-width="1.1"/>
<text x="202.41" y="359.50" font-size="8.8" textLength="4.50" lengthAdjust="spacingAndGlyphs" fill="#231f20">2</text>
<text transform="translate(196.40,412.70) rotate(-90)" x="-0.50" y="0" font-size="11.0" textLength="26.89" lengthAdjust="spacingAndGlyphs" fill="#231f20">Count</text>
<text x="202.94" y="456.40" font-size="9.2" textLength="11.70" lengthAdjust="spacingAndGlyphs" fill="#231f20">-10</text>
<text x="214.53" y="452.70" font-size="6.4" textLength="3.38" lengthAdjust="spacingAndGlyphs" fill="#231f20">2</text>
<text x="219.89" y="456.40" font-size="9.2" textLength="9.01" lengthAdjust="spacingAndGlyphs" fill="#231f20">10</text>
<text x="228.83" y="452.70" font-size="6.4" textLength="3.38" lengthAdjust="spacingAndGlyphs" fill="#231f20">0</text>
<text x="233.19" y="456.40" font-size="9.2" textLength="9.01" lengthAdjust="spacingAndGlyphs" fill="#231f20">10</text>
<text x="242.07" y="452.70" font-size="6.4" textLength="3.38" lengthAdjust="spacingAndGlyphs" fill="#231f20">2</text>
<text x="264.89" y="456.40" font-size="9.2" textLength="9.01" lengthAdjust="spacingAndGlyphs" fill="#231f20">10</text>
<text x="273.85" y="452.70" font-size="6.4" textLength="3.38" lengthAdjust="spacingAndGlyphs" fill="#231f20">3</text>
<text x="295.79" y="456.40" font-size="9.2" textLength="9.01" lengthAdjust="spacingAndGlyphs" fill="#231f20">10</text>
<text x="304.84" y="452.70" font-size="6.4" textLength="3.38" lengthAdjust="spacingAndGlyphs" fill="#231f20">4</text>
<text x="325.79" y="456.40" font-size="9.2" textLength="9.01" lengthAdjust="spacingAndGlyphs" fill="#231f20">10</text>
<text x="334.73" y="452.70" font-size="6.4" textLength="3.38" lengthAdjust="spacingAndGlyphs" fill="#231f20">5</text>
<text x="272.50" y="369.10" font-size="8.3" textLength="15.45" lengthAdjust="spacingAndGlyphs" fill="#231f20">KKO</text>
<path d="M377.7,357.3 H513.3 V439.4 H377.7 Z" stroke="#1a1a1a" stroke-width="1.5" fill="none"/>
<line x1="374.20" y1="439.40" x2="377.70" y2="439.40" stroke="#1a1a1a" stroke-width="1.1"/>
<text x="368.81" y="441.60" font-size="8.8" textLength="4.50" lengthAdjust="spacingAndGlyphs" fill="#231f20">0</text>
<line x1="375.70" y1="434.27" x2="377.70" y2="434.27" stroke="#1a1a1a" stroke-width="0.9"/>
<line x1="375.70" y1="429.14" x2="377.70" y2="429.14" stroke="#1a1a1a" stroke-width="0.9"/>
<line x1="375.70" y1="424.01" x2="377.70" y2="424.01" stroke="#1a1a1a" stroke-width="0.9"/>
<line x1="374.20" y1="418.88" x2="377.70" y2="418.88" stroke="#1a1a1a" stroke-width="1.1"/>
<text x="368.89" y="421.07" font-size="8.8" textLength="4.50" lengthAdjust="spacingAndGlyphs" fill="#231f20">1</text>
<line x1="375.70" y1="413.74" x2="377.70" y2="413.74" stroke="#1a1a1a" stroke-width="0.9"/>
<line x1="375.70" y1="408.61" x2="377.70" y2="408.61" stroke="#1a1a1a" stroke-width="0.9"/>
<line x1="375.70" y1="403.48" x2="377.70" y2="403.48" stroke="#1a1a1a" stroke-width="0.9"/>
<line x1="374.20" y1="398.35" x2="377.70" y2="398.35" stroke="#1a1a1a" stroke-width="1.1"/>
<text x="368.89" y="400.55" font-size="8.8" textLength="4.50" lengthAdjust="spacingAndGlyphs" fill="#231f20">1</text>
<line x1="375.70" y1="393.22" x2="377.70" y2="393.22" stroke="#1a1a1a" stroke-width="0.9"/>
<line x1="375.70" y1="388.09" x2="377.70" y2="388.09" stroke="#1a1a1a" stroke-width="0.9"/>
<line x1="375.70" y1="382.96" x2="377.70" y2="382.96" stroke="#1a1a1a" stroke-width="0.9"/>
<line x1="374.20" y1="377.82" x2="377.70" y2="377.82" stroke="#1a1a1a" stroke-width="1.1"/>
<text x="368.91" y="380.02" font-size="8.8" textLength="4.50" lengthAdjust="spacingAndGlyphs" fill="#231f20">2</text>
<line x1="375.70" y1="372.69" x2="377.70" y2="372.69" stroke="#1a1a1a" stroke-width="0.9"/>
<line x1="375.70" y1="367.56" x2="377.70" y2="367.56" stroke="#1a1a1a" stroke-width="0.9"/>
<line x1="375.70" y1="362.43" x2="377.70" y2="362.43" stroke="#1a1a1a" stroke-width="0.9"/>
<line x1="374.20" y1="357.30" x2="377.70" y2="357.30" stroke="#1a1a1a" stroke-width="1.1"/>
<text x="368.91" y="359.50" font-size="8.8" textLength="4.50" lengthAdjust="spacingAndGlyphs" fill="#231f20">2</text>
<text transform="translate(363.00,412.30) rotate(-90)" x="-0.48" y="0" font-size="11.0" textLength="25.87" lengthAdjust="spacingAndGlyphs" fill="#231f20">Count</text>
<text x="370.94" y="456.00" font-size="9.2" textLength="11.70" lengthAdjust="spacingAndGlyphs" fill="#231f20">-10</text>
<text x="382.53" y="452.30" font-size="6.4" textLength="3.38" lengthAdjust="spacingAndGlyphs" fill="#231f20">2</text>
<text x="386.69" y="456.00" font-size="9.2" textLength="9.01" lengthAdjust="spacingAndGlyphs" fill="#231f20">10</text>
<text x="395.63" y="452.30" font-size="6.4" textLength="3.38" lengthAdjust="spacingAndGlyphs" fill="#231f20">0</text>
<text x="399.39" y="456.00" font-size="9.2" textLength="9.01" lengthAdjust="spacingAndGlyphs" fill="#231f20">10</text>
<text x="408.27" y="452.30" font-size="6.4" textLength="3.38" lengthAdjust="spacingAndGlyphs" fill="#231f20">2</text>
<text x="431.19" y="456.00" font-size="9.2" textLength="9.01" lengthAdjust="spacingAndGlyphs" fill="#231f20">10</text>
<text x="440.15" y="452.30" font-size="6.4" textLength="3.38" lengthAdjust="spacingAndGlyphs" fill="#231f20">3</text>
<text x="462.59" y="456.00" font-size="9.2" textLength="9.01" lengthAdjust="spacingAndGlyphs" fill="#231f20">10</text>
<text x="471.64" y="452.30" font-size="6.4" textLength="3.38" lengthAdjust="spacingAndGlyphs" fill="#231f20">4</text>
<text x="492.59" y="456.00" font-size="9.2" textLength="9.01" lengthAdjust="spacingAndGlyphs" fill="#231f20">10</text>
<text x="501.53" y="452.30" font-size="6.4" textLength="3.38" lengthAdjust="spacingAndGlyphs" fill="#231f20">5</text>
<text x="401.78" y="368.40" font-size="8.3" textLength="29.79" lengthAdjust="spacingAndGlyphs" fill="#231f20">Anti-IgM</text>
<line x1="62.20" y1="439.90" x2="62.20" y2="442.80" stroke="#1a1a1a" stroke-width="0.9"/>
<line x1="71.38" y1="439.90" x2="71.38" y2="442.00" stroke="#1a1a1a" stroke-width="0.9"/>
<line x1="76.75" y1="439.90" x2="76.75" y2="442.00" stroke="#1a1a1a" stroke-width="0.9"/>
<line x1="80.56" y1="439.90" x2="80.56" y2="442.00" stroke="#1a1a1a" stroke-width="0.9"/>
<line x1="83.52" y1="439.90" x2="83.52" y2="442.00" stroke="#1a1a1a" stroke-width="0.9"/>
<line x1="85.93" y1="439.90" x2="85.93" y2="442.00" stroke="#1a1a1a" stroke-width="0.9"/>
<line x1="87.98" y1="439.90" x2="87.98" y2="442.00" stroke="#1a1a1a" stroke-width="0.9"/>
<line x1="89.74" y1="439.90" x2="89.74" y2="442.00" stroke="#1a1a1a" stroke-width="0.9"/>
<line x1="91.30" y1="439.90" x2="91.30" y2="442.00" stroke="#1a1a1a" stroke-width="0.9"/>
<line x1="92.70" y1="439.90" x2="92.70" y2="442.80" stroke="#1a1a1a" stroke-width="0.9"/>
<line x1="102.66" y1="439.90" x2="102.66" y2="442.00" stroke="#1a1a1a" stroke-width="0.9"/>
<line x1="108.49" y1="439.90" x2="108.49" y2="442.00" stroke="#1a1a1a" stroke-width="0.9"/>
<line x1="112.63" y1="439.90" x2="112.63" y2="442.00" stroke="#1a1a1a" stroke-width="0.9"/>
<line x1="115.84" y1="439.90" x2="115.84" y2="442.00" stroke="#1a1a1a" stroke-width="0.9"/>
<line x1="118.46" y1="439.90" x2="118.46" y2="442.00" stroke="#1a1a1a" stroke-width="0.9"/>
<line x1="120.67" y1="439.90" x2="120.67" y2="442.00" stroke="#1a1a1a" stroke-width="0.9"/>
<line x1="122.59" y1="439.90" x2="122.59" y2="442.00" stroke="#1a1a1a" stroke-width="0.9"/>
<line x1="124.29" y1="439.90" x2="124.29" y2="442.00" stroke="#1a1a1a" stroke-width="0.9"/>
<line x1="125.80" y1="439.90" x2="125.80" y2="442.80" stroke="#1a1a1a" stroke-width="0.9"/>
<line x1="134.74" y1="439.90" x2="134.74" y2="442.00" stroke="#1a1a1a" stroke-width="0.9"/>
<line x1="139.97" y1="439.90" x2="139.97" y2="442.00" stroke="#1a1a1a" stroke-width="0.9"/>
<line x1="143.68" y1="439.90" x2="143.68" y2="442.00" stroke="#1a1a1a" stroke-width="0.9"/>
<line x1="146.56" y1="439.90" x2="146.56" y2="442.00" stroke="#1a1a1a" stroke-width="0.9"/>
<line x1="148.91" y1="439.90" x2="148.91" y2="442.00" stroke="#1a1a1a" stroke-width="0.9"/>
<line x1="150.90" y1="439.90" x2="150.90" y2="442.00" stroke="#1a1a1a" stroke-width="0.9"/>
<line x1="152.62" y1="439.90" x2="152.62" y2="442.00" stroke="#1a1a1a" stroke-width="0.9"/>
<line x1="154.14" y1="439.90" x2="154.14" y2="442.00" stroke="#1a1a1a" stroke-width="0.9"/>
<line x1="155.50" y1="439.90" x2="155.50" y2="442.80" stroke="#1a1a1a" stroke-width="0.9"/>
<line x1="45.50" y1="439.90" x2="45.50" y2="442.80" stroke="#1a1a1a" stroke-width="0.9"/>
<line x1="47.59" y1="439.90" x2="47.59" y2="442.00" stroke="#1a1a1a" stroke-width="0.9"/>
<line x1="49.67" y1="439.90" x2="49.67" y2="442.00" stroke="#1a1a1a" stroke-width="0.9"/>
<line x1="51.76" y1="439.90" x2="51.76" y2="442.00" stroke="#1a1a1a" stroke-width="0.9"/>
<line x1="53.85" y1="439.90" x2="53.85" y2="442.00" stroke="#1a1a1a" stroke-width="0.9"/>
<line x1="55.94" y1="439.90" x2="55.94" y2="442.00" stroke="#1a1a1a" stroke-width="0.9"/>
<line x1="58.03" y1="439.90" x2="58.03" y2="442.00" stroke="#1a1a1a" stroke-width="0.9"/>
<line x1="60.11" y1="439.90" x2="60.11" y2="442.00" stroke="#1a1a1a" stroke-width="0.9"/>
<line x1="62.20" y1="439.90" x2="62.20" y2="442.80" stroke="#1a1a1a" stroke-width="0.9"/>
<line x1="239.30" y1="439.90" x2="239.30" y2="442.80" stroke="#1a1a1a" stroke-width="0.9"/>
<line x1="248.69" y1="439.90" x2="248.69" y2="442.00" stroke="#1a1a1a" stroke-width="0.9"/>
<line x1="254.19" y1="439.90" x2="254.19" y2="442.00" stroke="#1a1a1a" stroke-width="0.9"/>
<line x1="258.08" y1="439.90" x2="258.08" y2="442.00" stroke="#1a1a1a" stroke-width="0.9"/>
<line x1="261.11" y1="439.90" x2="261.11" y2="442.00" stroke="#1a1a1a" stroke-width="0.9"/>
<line x1="263.58" y1="439.90" x2="263.58" y2="442.00" stroke="#1a1a1a" stroke-width="0.9"/>
<line x1="265.67" y1="439.90" x2="265.67" y2="442.00" stroke="#1a1a1a" stroke-width="0.9"/>
<line x1="267.48" y1="439.90" x2="267.48" y2="442.00" stroke="#1a1a1a" stroke-width="0.9"/>
<line x1="269.07" y1="439.90" x2="269.07" y2="442.00" stroke="#1a1a1a" stroke-width="0.9"/>
<line x1="270.50" y1="439.90" x2="270.50" y2="442.80" stroke="#1a1a1a" stroke-width="0.9"/>
<line x1="279.80" y1="439.90" x2="279.80" y2="442.00" stroke="#1a1a1a" stroke-width="0.9"/>
<line x1="285.24" y1="439.90" x2="285.24" y2="442.00" stroke="#1a1a1a" stroke-width="0.9"/>
<line x1="289.10" y1="439.90" x2="289.10" y2="442.00" stroke="#1a1a1a" stroke-width="0.9"/>
<line x1="292.10" y1="439.90" x2="292.10" y2="442.00" stroke="#1a1a1a" stroke-width="0.9"/>
<line x1="294.54" y1="439.90" x2="294.54" y2="442.00" stroke="#1a1a1a" stroke-width="0.9"/>
<line x1="296.61" y1="439.90" x2="296.61" y2="442.00" stroke="#1a1a1a" stroke-width="0.9"/>
<line x1="298.41" y1="439.90" x2="298.41" y2="442.00" stroke="#1a1a1a" stroke-width="0.9"/>
<line x1="299.99" y1="439.90" x2="299.99" y2="442.00" stroke="#1a1a1a" stroke-width="0.9"/>
<line x1="301.40" y1="439.90" x2="301.40" y2="442.80" stroke="#1a1a1a" stroke-width="0.9"/>
<line x1="310.43" y1="439.90" x2="310.43" y2="442.00" stroke="#1a1a1a" stroke-width="0.9"/>
<line x1="315.71" y1="439.90" x2="315.71" y2="442.00" stroke="#1a1a1a" stroke-width="0.9"/>
<line x1="319.46" y1="439.90" x2="319.46" y2="442.00" stroke="#1a1a1a" stroke-width="0.9"/>
<line x1="322.37" y1="439.90" x2="322.37" y2="442.00" stroke="#1a1a1a" stroke-width="0.9"/>
<line x1="324.74" y1="439.90" x2="324.74" y2="442.00" stroke="#1a1a1a" stroke-width="0.9"/>
<line x1="326.75" y1="439.90" x2="326.75" y2="442.00" stroke="#1a1a1a" stroke-width="0.9"/>
<line x1="328.49" y1="439.90" x2="328.49" y2="442.00" stroke="#1a1a1a" stroke-width="0.9"/>
<line x1="330.03" y1="439.90" x2="330.03" y2="442.00" stroke="#1a1a1a" stroke-width="0.9"/>
<line x1="331.40" y1="439.90" x2="331.40" y2="442.80" stroke="#1a1a1a" stroke-width="0.9"/>
<line x1="208.00" y1="439.90" x2="208.00" y2="442.80" stroke="#1a1a1a" stroke-width="0.9"/>
<line x1="211.91" y1="439.90" x2="211.91" y2="442.00" stroke="#1a1a1a" stroke-width="0.9"/>
<line x1="215.82" y1="439.90" x2="215.82" y2="442.00" stroke="#1a1a1a" stroke-width="0.9"/>
<line x1="219.74" y1="439.90" x2="219.74" y2="442.00" stroke="#1a1a1a" stroke-width="0.9"/>
<line x1="223.65" y1="439.90" x2="223.65" y2="442.00" stroke="#1a1a1a" stroke-width="0.9"/>
<line x1="227.56" y1="439.90" x2="227.56" y2="442.00" stroke="#1a1a1a" stroke-width="0.9"/>
<line x1="231.48" y1="439.90" x2="231.48" y2="442.00" stroke="#1a1a1a" stroke-width="0.9"/>
<line x1="235.39" y1="439.90" x2="235.39" y2="442.00" stroke="#1a1a1a" stroke-width="0.9"/>
<line x1="239.30" y1="439.90" x2="239.30" y2="442.80" stroke="#1a1a1a" stroke-width="0.9"/>
<line x1="405.80" y1="439.90" x2="405.80" y2="442.80" stroke="#1a1a1a" stroke-width="0.9"/>
<line x1="415.19" y1="439.90" x2="415.19" y2="442.00" stroke="#1a1a1a" stroke-width="0.9"/>
<line x1="420.69" y1="439.90" x2="420.69" y2="442.00" stroke="#1a1a1a" stroke-width="0.9"/>
<line x1="424.58" y1="439.90" x2="424.58" y2="442.00" stroke="#1a1a1a" stroke-width="0.9"/>
<line x1="427.61" y1="439.90" x2="427.61" y2="442.00" stroke="#1a1a1a" stroke-width="0.9"/>
<line x1="430.08" y1="439.90" x2="430.08" y2="442.00" stroke="#1a1a1a" stroke-width="0.9"/>
<line x1="432.17" y1="439.90" x2="432.17" y2="442.00" stroke="#1a1a1a" stroke-width="0.9"/>
<line x1="433.98" y1="439.90" x2="433.98" y2="442.00" stroke="#1a1a1a" stroke-width="0.9"/>
<line x1="435.57" y1="439.90" x2="435.57" y2="442.00" stroke="#1a1a1a" stroke-width="0.9"/>
<line x1="437.00" y1="439.90" x2="437.00" y2="442.80" stroke="#1a1a1a" stroke-width="0.9"/>
<line x1="446.51" y1="439.90" x2="446.51" y2="442.00" stroke="#1a1a1a" stroke-width="0.9"/>
<line x1="452.08" y1="439.90" x2="452.08" y2="442.00" stroke="#1a1a1a" stroke-width="0.9"/>
<line x1="456.03" y1="439.90" x2="456.03" y2="442.00" stroke="#1a1a1a" stroke-width="0.9"/>
<line x1="459.09" y1="439.90" x2="459.09" y2="442.00" stroke="#1a1a1a" stroke-width="0.9"/>
<line x1="461.59" y1="439.90" x2="461.59" y2="442.00" stroke="#1a1a1a" stroke-width="0.9"/>
<line x1="463.71" y1="439.90" x2="463.71" y2="442.00" stroke="#1a1a1a" stroke-width="0.9"/>
<line x1="465.54" y1="439.90" x2="465.54" y2="442.00" stroke="#1a1a1a" stroke-width="0.9"/>
<line x1="467.15" y1="439.90" x2="467.15" y2="442.00" stroke="#1a1a1a" stroke-width="0.9"/>
<line x1="468.60" y1="439.90" x2="468.60" y2="442.80" stroke="#1a1a1a" stroke-width="0.9"/>
<line x1="477.72" y1="439.90" x2="477.72" y2="442.00" stroke="#1a1a1a" stroke-width="0.9"/>
<line x1="483.06" y1="439.90" x2="483.06" y2="442.00" stroke="#1a1a1a" stroke-width="0.9"/>
<line x1="486.84" y1="439.90" x2="486.84" y2="442.00" stroke="#1a1a1a" stroke-width="0.9"/>
<line x1="489.78" y1="439.90" x2="489.78" y2="442.00" stroke="#1a1a1a" stroke-width="0.9"/>
<line x1="492.18" y1="439.90" x2="492.18" y2="442.00" stroke="#1a1a1a" stroke-width="0.9"/>
<line x1="494.21" y1="439.90" x2="494.21" y2="442.00" stroke="#1a1a1a" stroke-width="0.9"/>
<line x1="495.96" y1="439.90" x2="495.96" y2="442.00" stroke="#1a1a1a" stroke-width="0.9"/>
<line x1="497.51" y1="439.90" x2="497.51" y2="442.00" stroke="#1a1a1a" stroke-width="0.9"/>
<line x1="498.90" y1="439.90" x2="498.90" y2="442.80" stroke="#1a1a1a" stroke-width="0.9"/>
<line x1="376.00" y1="439.90" x2="376.00" y2="442.80" stroke="#1a1a1a" stroke-width="0.9"/>
<line x1="379.72" y1="439.90" x2="379.72" y2="442.00" stroke="#1a1a1a" stroke-width="0.9"/>
<line x1="383.45" y1="439.90" x2="383.45" y2="442.00" stroke="#1a1a1a" stroke-width="0.9"/>
<line x1="387.17" y1="439.90" x2="387.17" y2="442.00" stroke="#1a1a1a" stroke-width="0.9"/>
<line x1="390.90" y1="439.90" x2="390.90" y2="442.00" stroke="#1a1a1a" stroke-width="0.9"/>
<line x1="394.62" y1="439.90" x2="394.62" y2="442.00" stroke="#1a1a1a" stroke-width="0.9"/>
<line x1="398.35" y1="439.90" x2="398.35" y2="442.00" stroke="#1a1a1a" stroke-width="0.9"/>
<line x1="402.07" y1="439.90" x2="402.07" y2="442.00" stroke="#1a1a1a" stroke-width="0.9"/>
<line x1="405.80" y1="439.90" x2="405.80" y2="442.80" stroke="#1a1a1a" stroke-width="0.9"/>
<line x1="152.50" y1="477.70" x2="152.50" y2="604.50" stroke="#262626" stroke-width="1.0"/>
<line x1="341.50" y1="477.70" x2="341.50" y2="604.50" stroke="#6a6a6a" stroke-width="1.0"/>
<line x1="149.90" y1="604.50" x2="152.50" y2="604.50" stroke="#262626" stroke-width="1.0"/>
<line x1="341.50" y1="604.50" x2="343.90" y2="604.50" stroke="#6a6a6a" stroke-width="1.0"/>
<text x="140.86" y="607.50" font-size="8.6" textLength="4.45" lengthAdjust="spacingAndGlyphs" fill="#231f20">0</text>
<text x="348.38" y="607.50" font-size="8.6" textLength="4.45" lengthAdjust="spacingAndGlyphs" fill="#231f20">0</text>
<line x1="149.90" y1="579.76" x2="152.50" y2="579.76" stroke="#262626" stroke-width="1.0"/>
<line x1="341.50" y1="579.76" x2="343.90" y2="579.76" stroke="#6a6a6a" stroke-width="1.0"/>
<text x="131.96" y="582.76" font-size="8.6" textLength="13.34" lengthAdjust="spacingAndGlyphs" fill="#231f20">500</text>
<text x="348.38" y="582.76" font-size="8.6" textLength="17.79" lengthAdjust="spacingAndGlyphs" fill="#231f20">5000</text>
<line x1="149.90" y1="555.02" x2="152.50" y2="555.02" stroke="#262626" stroke-width="1.0"/>
<line x1="341.50" y1="555.02" x2="343.90" y2="555.02" stroke="#6a6a6a" stroke-width="1.0"/>
<text x="127.52" y="558.02" font-size="8.6" textLength="17.79" lengthAdjust="spacingAndGlyphs" fill="#231f20">1000</text>
<text x="348.10" y="558.02" font-size="8.6" textLength="22.24" lengthAdjust="spacingAndGlyphs" fill="#231f20">10000</text>
<line x1="149.90" y1="530.28" x2="152.50" y2="530.28" stroke="#262626" stroke-width="1.0"/>
<line x1="341.50" y1="530.28" x2="343.90" y2="530.28" stroke="#6a6a6a" stroke-width="1.0"/>
<text x="127.52" y="533.28" font-size="8.6" textLength="17.79" lengthAdjust="spacingAndGlyphs" fill="#231f20">1500</text>
<text x="348.10" y="533.28" font-size="8.6" textLength="22.24" lengthAdjust="spacingAndGlyphs" fill="#231f20">15000</text>
<line x1="149.90" y1="505.54" x2="152.50" y2="505.54" stroke="#262626" stroke-width="1.0"/>
<line x1="341.50" y1="505.54" x2="343.90" y2="505.54" stroke="#6a6a6a" stroke-width="1.0"/>
<text x="127.52" y="508.54" font-size="8.6" textLength="17.79" lengthAdjust="spacingAndGlyphs" fill="#231f20">2000</text>
<text x="348.30" y="508.54" font-size="8.6" textLength="22.24" lengthAdjust="spacingAndGlyphs" fill="#231f20">20000</text>
<line x1="149.90" y1="480.80" x2="152.50" y2="480.80" stroke="#262626" stroke-width="1.0"/>
<line x1="341.50" y1="480.80" x2="343.90" y2="480.80" stroke="#6a6a6a" stroke-width="1.0"/>
<text x="127.52" y="483.80" font-size="8.6" textLength="17.79" lengthAdjust="spacingAndGlyphs" fill="#231f20">2500</text>
<text x="348.30" y="483.80" font-size="8.6" textLength="22.24" lengthAdjust="spacingAndGlyphs" fill="#231f20">25000</text>
<text transform="translate(119.90,581.50) rotate(-90)" x="-0.40" y="0" font-size="9.6" textLength="80.97" lengthAdjust="spacingAndGlyphs" fill="#231f20">anti-C3c / KKO MFI</text>
<text transform="translate(378.20,513.60) rotate(90)" x="-0.43" y="0" font-size="9.6" textLength="56.45" lengthAdjust="spacingAndGlyphs" fill="#231f20">anti-IgM MFI</text>
<rect x="162.70" y="599.20" width="19.20" height="5.30" fill="#c6037b"/>
<line x1="167.90" y1="598.50" x2="177.10" y2="598.50" stroke="#1a1a1a" stroke-width="1.1"/>
<rect x="193.20" y="516.20" width="18.80" height="88.30" fill="#4a5368"/>
<line x1="202.50" y1="516.20" x2="202.50" y2="509.50" stroke="#1a1a1a" stroke-width="1.0"/>
<line x1="197.90" y1="509.50" x2="207.10" y2="509.50" stroke="#1a1a1a" stroke-width="1.1"/>
<rect x="222.70" y="596.90" width="19.20" height="7.60" fill="#c6037b"/>
<line x1="227.90" y1="596.50" x2="237.10" y2="596.50" stroke="#1a1a1a" stroke-width="1.1"/>
<rect x="253.00" y="511.00" width="18.90" height="93.50" fill="#4a5368"/>
<line x1="262.50" y1="511.00" x2="262.50" y2="507.50" stroke="#1a1a1a" stroke-width="1.0"/>
<line x1="257.90" y1="507.50" x2="267.10" y2="507.50" stroke="#1a1a1a" stroke-width="1.1"/>
<rect x="283.00" y="581.00" width="19.20" height="23.50" fill="#c6037b"/>
<line x1="292.50" y1="581.00" x2="292.50" y2="579.50" stroke="#1a1a1a" stroke-width="1.0"/>
<line x1="287.90" y1="579.50" x2="297.10" y2="579.50" stroke="#1a1a1a" stroke-width="1.1"/>
<rect x="312.40" y="507.70" width="19.30" height="96.80" fill="#4a5368"/>
<line x1="322.50" y1="507.70" x2="322.50" y2="504.50" stroke="#1a1a1a" stroke-width="1.0"/>
<line x1="317.90" y1="504.50" x2="327.10" y2="504.50" stroke="#1a1a1a" stroke-width="1.1"/>
<line x1="149.90" y1="604.50" x2="343.90" y2="604.50" stroke="#6a6a6a" stroke-width="1.0"/>
<path d="M172.5,522.6 V482.5 H202.5 V506.9" stroke="#2b2b2b" stroke-width="1.1" fill="none"/>
<path d="M232.5,522.6 V482.5 H262.5 V502.3" stroke="#2b2b2b" stroke-width="1.1" fill="none"/>
<path d="M291.5,522.6 V482.5 H322.5 V503.3" stroke="#2b2b2b" stroke-width="1.1" fill="none"/>
<circle cx="186.60" cy="476.90" r="1.25" fill="#2a2a2a"/>
<circle cx="247.30" cy="476.90" r="1.25" fill="#2a2a2a"/>
<circle cx="305.50" cy="476.90" r="1.25" fill="#2a2a2a"/>
<text x="169.96" y="617.60" font-size="8.5" textLength="29.85" lengthAdjust="spacingAndGlyphs" fill="#231f20">anti-C3c</text>
<text x="239.98" y="617.60" font-size="8.5" textLength="15.87" lengthAdjust="spacingAndGlyphs" fill="#231f20">KKO</text>
<text x="292.82" y="617.60" font-size="8.5" textLength="31.90" lengthAdjust="spacingAndGlyphs" fill="#231f20">anti-IgM</text>
<rect x="380.00" y="477.20" width="10.80" height="8.50" fill="#c6037b"/>
<rect x="380.00" y="488.80" width="10.80" height="8.10" fill="#4a5368"/>
<text x="396.72" y="484.20" font-size="8.6" textLength="42.70" lengthAdjust="spacingAndGlyphs" fill="#231f20">Pre heparin</text>
<text x="396.72" y="495.40" font-size="8.6" textLength="46.40" lengthAdjust="spacingAndGlyphs" fill="#231f20">Post heparin</text>
<rect x="1" y="1" width="1" height="630" fill="#8c8c8c"/>
<rect x="1" y="1" width="518" height="1" fill="#a8a8a8"/>
<rect x="518" y="1" width="1" height="630" fill="#909090"/>
<rect x="1" y="630" width="518" height="1" fill="#8a8a8a"/>
<rect x="0" y="0" width="1" height="632" fill="#151515"/>
<rect x="0" y="0" width="520" height="1" fill="#151515"/>
<rect x="519" y="0" width="1" height="632" fill="#2b2b2b"/>
<rect x="0" y="631" width="520" height="1" fill="#3a3a3a"/>
</svg>
</body></html>
